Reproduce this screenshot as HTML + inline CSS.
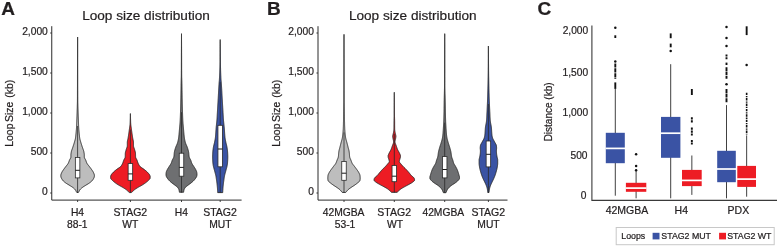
<!DOCTYPE html>
<html lang="en"><head><meta charset="utf-8"><title>Loop size distribution</title>
<style>
html,body{margin:0;padding:0;background:#fff}
body{width:777px;height:246px;overflow:hidden}
svg{display:block}
svg text{font-family:"Liberation Sans", Arial, Helvetica, sans-serif;fill:#231F20;stroke:#231F20;stroke-width:0.22px}
</style></head><body>
<svg width="777" height="246" viewBox="0 0 777 246">
<rect width="777" height="246" fill="#fff"/>
<text x="1.20" y="14.80" font-size="19.00" text-anchor="start" font-weight="bold" >A</text>
<text x="146.00" y="20.40" font-size="13.60" text-anchor="middle" font-weight="normal" >Loop size distribution</text>
<path d="M51.75 26.2 V200.10 H241.60" fill="none" stroke="#2b2b2b" stroke-width="1"/>
<line x1="50.15" y1="193.00" x2="51.75" y2="193.00" stroke="#2b2b2b" stroke-width="0.9"/>
<text x="47.80" y="194.60" font-size="10.25" text-anchor="end" font-weight="normal" >0</text>
<line x1="50.15" y1="153.00" x2="51.75" y2="153.00" stroke="#2b2b2b" stroke-width="0.9"/>
<text x="47.80" y="154.60" font-size="10.25" text-anchor="end" font-weight="normal" >500</text>
<line x1="50.15" y1="113.00" x2="51.75" y2="113.00" stroke="#2b2b2b" stroke-width="0.9"/>
<text x="47.80" y="114.60" font-size="10.25" text-anchor="end" font-weight="normal" >1,000</text>
<line x1="50.15" y1="73.00" x2="51.75" y2="73.00" stroke="#2b2b2b" stroke-width="0.9"/>
<text x="47.80" y="74.60" font-size="10.25" text-anchor="end" font-weight="normal" >1,500</text>
<line x1="50.15" y1="33.00" x2="51.75" y2="33.00" stroke="#2b2b2b" stroke-width="0.9"/>
<text x="47.80" y="34.60" font-size="10.25" text-anchor="end" font-weight="normal" >2,000</text>
<text transform="translate(13.30 146.70) rotate(-90)" font-size="10.4" text-anchor="start">Loop</text>
<text transform="translate(13.30 122.00) rotate(-90)" font-size="10.4" text-anchor="start">Size</text>
<text transform="translate(13.30 97.70) rotate(-90)" font-size="10.4" text-anchor="start">(kb)</text>
<path d="M77.60 37.00 L77.60 37.50 L77.60 38.00 L77.59 38.50 L77.59 39.00 L77.59 39.50 L77.59 40.00 L77.59 40.50 L77.59 41.00 L77.58 41.50 L77.58 42.00 L77.58 42.50 L77.58 43.00 L77.58 43.50 L77.58 44.00 L77.57 44.50 L77.57 45.00 L77.57 45.50 L77.57 46.00 L77.57 46.50 L77.57 47.00 L77.56 47.50 L77.56 48.00 L77.56 48.50 L77.56 49.00 L77.56 49.50 L77.56 50.00 L77.55 50.50 L77.55 51.00 L77.55 51.50 L77.55 52.00 L77.55 52.50 L77.55 53.00 L77.54 53.50 L77.54 54.00 L77.54 54.50 L77.54 55.00 L77.54 55.50 L77.54 56.00 L77.54 56.50 L77.53 57.00 L77.53 57.50 L77.53 58.00 L77.53 58.50 L77.53 59.00 L77.53 59.50 L77.52 60.00 L77.52 60.50 L77.52 61.00 L77.52 61.50 L77.52 62.00 L77.52 62.50 L77.52 63.00 L77.51 63.50 L77.51 64.00 L77.51 64.50 L77.51 65.00 L77.51 65.50 L77.51 66.00 L77.51 66.50 L77.50 67.00 L77.50 67.50 L77.50 68.00 L77.50 68.50 L77.50 69.00 L77.50 69.50 L77.50 70.00 L77.49 70.50 L77.49 71.00 L77.49 71.50 L77.49 72.00 L77.49 72.50 L77.49 73.00 L77.49 73.50 L77.49 74.00 L77.49 74.50 L77.49 75.00 L77.48 75.50 L77.48 76.00 L77.48 76.50 L77.48 77.00 L77.48 77.50 L77.48 78.00 L77.48 78.50 L77.48 79.00 L77.48 79.50 L77.48 80.00 L77.48 80.50 L77.48 81.00 L77.47 81.50 L77.47 82.00 L77.47 82.50 L77.47 83.00 L77.47 83.50 L77.47 84.00 L77.47 84.50 L77.47 85.00 L77.47 85.50 L77.47 86.00 L77.47 86.50 L77.46 87.00 L77.46 87.50 L77.46 88.00 L77.46 88.50 L77.46 89.00 L77.46 89.50 L77.46 90.00 L77.46 90.50 L77.45 91.00 L77.45 91.50 L77.45 92.00 L77.45 92.50 L77.45 93.00 L77.45 93.50 L77.45 94.00 L77.44 94.50 L77.44 95.00 L77.44 95.50 L77.44 96.00 L77.44 96.50 L77.43 97.00 L77.43 97.50 L77.43 98.00 L77.43 98.50 L77.43 99.00 L77.42 99.50 L77.42 100.00 L77.42 100.50 L77.41 101.00 L77.41 101.50 L77.40 102.00 L77.39 102.50 L77.38 103.00 L77.37 103.50 L77.36 104.00 L77.34 104.50 L77.33 105.00 L77.31 105.50 L77.30 106.00 L77.28 106.50 L77.27 107.00 L77.25 107.50 L77.23 108.00 L77.22 108.50 L77.20 109.00 L77.18 109.50 L77.17 110.00 L77.15 110.50 L77.13 111.00 L77.12 111.50 L77.10 112.00 L77.08 112.50 L77.07 113.00 L77.05 113.50 L77.03 114.00 L77.01 114.50 L77.00 115.00 L76.98 115.50 L76.96 116.00 L76.94 116.50 L76.92 117.00 L76.90 117.50 L76.88 118.00 L76.86 118.50 L76.84 119.00 L76.82 119.50 L76.80 120.00 L76.78 120.50 L76.76 121.00 L76.75 121.50 L76.73 122.00 L76.71 122.50 L76.70 123.00 L76.68 123.50 L76.66 124.00 L76.64 124.50 L76.62 125.00 L76.60 125.50 L76.58 126.00 L76.56 126.50 L76.54 127.00 L76.51 127.50 L76.48 128.00 L76.45 128.50 L76.42 129.00 L76.38 129.50 L76.34 130.00 L76.29 130.50 L76.25 131.00 L76.20 131.50 L76.15 132.00 L76.10 132.50 L76.05 133.00 L76.00 133.50 L75.95 134.00 L75.89 134.50 L75.84 135.00 L75.79 135.50 L75.74 136.00 L75.69 136.50 L75.63 137.00 L75.57 137.50 L75.50 138.00 L75.41 138.50 L75.31 139.00 L75.19 139.50 L75.06 140.00 L74.92 140.50 L74.77 141.00 L74.62 141.50 L74.48 142.00 L74.33 142.50 L74.18 143.00 L74.03 143.50 L73.88 144.00 L73.72 144.50 L73.55 145.00 L73.39 145.50 L73.23 146.00 L73.06 146.50 L72.90 147.00 L72.73 147.50 L72.56 148.00 L72.38 148.50 L72.19 149.00 L72.00 149.50 L71.83 150.00 L71.66 150.50 L71.51 151.00 L71.38 151.50 L71.28 152.00 L71.19 152.50 L71.10 153.00 L71.02 153.50 L70.96 154.00 L70.92 154.50 L70.90 155.00 L70.90 155.50 L70.90 156.00 L70.90 156.50 L70.90 157.00 L70.83 157.50 L70.65 158.00 L70.39 158.50 L70.09 159.00 L69.80 159.50 L69.54 160.00 L69.34 160.50 L69.16 161.00 L68.99 161.50 L68.81 162.00 L68.62 162.50 L68.40 163.00 L68.13 163.50 L67.81 164.00 L67.44 164.50 L67.04 165.00 L66.63 165.50 L66.23 166.00 L65.85 166.50 L65.47 167.00 L65.09 167.50 L64.71 168.00 L64.34 168.50 L63.98 169.00 L63.63 169.50 L63.28 170.00 L62.93 170.50 L62.59 171.00 L62.27 171.50 L61.99 172.00 L61.76 172.50 L61.54 173.00 L61.32 173.50 L61.12 174.00 L60.95 174.50 L60.84 175.00 L60.80 175.50 L60.82 176.00 L60.86 176.50 L60.94 177.00 L61.11 177.50 L61.35 178.00 L61.60 178.50 L61.87 179.00 L62.18 179.50 L62.53 180.00 L62.92 180.50 L63.36 181.00 L63.89 181.50 L64.49 182.00 L65.13 182.50 L65.80 183.00 L66.53 183.50 L67.34 184.00 L68.18 184.50 L69.02 185.00 L69.82 185.50 L70.62 186.00 L71.42 186.50 L72.18 187.00 L72.87 187.50 L73.49 188.00 L74.08 188.50 L74.62 189.00 L75.09 189.50 L75.47 190.00 L75.75 190.50 L75.99 191.00 L76.23 191.50 L76.52 192.00 L76.86 192.50 L78.34 192.50 L78.68 192.00 L78.97 191.50 L79.21 191.00 L79.45 190.50 L79.73 190.00 L80.11 189.50 L80.58 189.00 L81.12 188.50 L81.71 188.00 L82.33 187.50 L83.02 187.00 L83.78 186.50 L84.58 186.00 L85.38 185.50 L86.18 185.00 L87.02 184.50 L87.86 184.00 L88.67 183.50 L89.40 183.00 L90.07 182.50 L90.71 182.00 L91.31 181.50 L91.84 181.00 L92.28 180.50 L92.67 180.00 L93.02 179.50 L93.33 179.00 L93.60 178.50 L93.85 178.00 L94.09 177.50 L94.26 177.00 L94.34 176.50 L94.38 176.00 L94.40 175.50 L94.36 175.00 L94.25 174.50 L94.08 174.00 L93.88 173.50 L93.66 173.00 L93.44 172.50 L93.21 172.00 L92.93 171.50 L92.61 171.00 L92.27 170.50 L91.92 170.00 L91.57 169.50 L91.22 169.00 L90.86 168.50 L90.49 168.00 L90.11 167.50 L89.73 167.00 L89.35 166.50 L88.97 166.00 L88.57 165.50 L88.16 165.00 L87.76 164.50 L87.39 164.00 L87.07 163.50 L86.80 163.00 L86.58 162.50 L86.39 162.00 L86.21 161.50 L86.04 161.00 L85.86 160.50 L85.66 160.00 L85.40 159.50 L85.11 159.00 L84.81 158.50 L84.55 158.00 L84.37 157.50 L84.30 157.00 L84.30 156.50 L84.30 156.00 L84.30 155.50 L84.30 155.00 L84.28 154.50 L84.24 154.00 L84.18 153.50 L84.10 153.00 L84.01 152.50 L83.92 152.00 L83.82 151.50 L83.69 151.00 L83.54 150.50 L83.37 150.00 L83.20 149.50 L83.01 149.00 L82.82 148.50 L82.64 148.00 L82.47 147.50 L82.30 147.00 L82.14 146.50 L81.97 146.00 L81.81 145.50 L81.65 145.00 L81.48 144.50 L81.32 144.00 L81.17 143.50 L81.02 143.00 L80.87 142.50 L80.72 142.00 L80.58 141.50 L80.43 141.00 L80.28 140.50 L80.14 140.00 L80.01 139.50 L79.89 139.00 L79.79 138.50 L79.70 138.00 L79.63 137.50 L79.57 137.00 L79.51 136.50 L79.46 136.00 L79.41 135.50 L79.36 135.00 L79.31 134.50 L79.25 134.00 L79.20 133.50 L79.15 133.00 L79.10 132.50 L79.05 132.00 L79.00 131.50 L78.95 131.00 L78.91 130.50 L78.86 130.00 L78.82 129.50 L78.78 129.00 L78.75 128.50 L78.72 128.00 L78.69 127.50 L78.66 127.00 L78.64 126.50 L78.62 126.00 L78.60 125.50 L78.58 125.00 L78.56 124.50 L78.54 124.00 L78.52 123.50 L78.50 123.00 L78.49 122.50 L78.47 122.00 L78.45 121.50 L78.44 121.00 L78.42 120.50 L78.40 120.00 L78.38 119.50 L78.36 119.00 L78.34 118.50 L78.32 118.00 L78.30 117.50 L78.28 117.00 L78.26 116.50 L78.24 116.00 L78.22 115.50 L78.20 115.00 L78.19 114.50 L78.17 114.00 L78.15 113.50 L78.13 113.00 L78.12 112.50 L78.10 112.00 L78.08 111.50 L78.07 111.00 L78.05 110.50 L78.03 110.00 L78.02 109.50 L78.00 109.00 L77.98 108.50 L77.97 108.00 L77.95 107.50 L77.93 107.00 L77.92 106.50 L77.90 106.00 L77.89 105.50 L77.87 105.00 L77.86 104.50 L77.84 104.00 L77.83 103.50 L77.82 103.00 L77.81 102.50 L77.80 102.00 L77.79 101.50 L77.79 101.00 L77.78 100.50 L77.78 100.00 L77.78 99.50 L77.77 99.00 L77.77 98.50 L77.77 98.00 L77.77 97.50 L77.77 97.00 L77.76 96.50 L77.76 96.00 L77.76 95.50 L77.76 95.00 L77.76 94.50 L77.75 94.00 L77.75 93.50 L77.75 93.00 L77.75 92.50 L77.75 92.00 L77.75 91.50 L77.75 91.00 L77.74 90.50 L77.74 90.00 L77.74 89.50 L77.74 89.00 L77.74 88.50 L77.74 88.00 L77.74 87.50 L77.74 87.00 L77.73 86.50 L77.73 86.00 L77.73 85.50 L77.73 85.00 L77.73 84.50 L77.73 84.00 L77.73 83.50 L77.73 83.00 L77.73 82.50 L77.73 82.00 L77.73 81.50 L77.72 81.00 L77.72 80.50 L77.72 80.00 L77.72 79.50 L77.72 79.00 L77.72 78.50 L77.72 78.00 L77.72 77.50 L77.72 77.00 L77.72 76.50 L77.72 76.00 L77.72 75.50 L77.71 75.00 L77.71 74.50 L77.71 74.00 L77.71 73.50 L77.71 73.00 L77.71 72.50 L77.71 72.00 L77.71 71.50 L77.71 71.00 L77.71 70.50 L77.70 70.00 L77.70 69.50 L77.70 69.00 L77.70 68.50 L77.70 68.00 L77.70 67.50 L77.70 67.00 L77.69 66.50 L77.69 66.00 L77.69 65.50 L77.69 65.00 L77.69 64.50 L77.69 64.00 L77.69 63.50 L77.68 63.00 L77.68 62.50 L77.68 62.00 L77.68 61.50 L77.68 61.00 L77.68 60.50 L77.68 60.00 L77.67 59.50 L77.67 59.00 L77.67 58.50 L77.67 58.00 L77.67 57.50 L77.67 57.00 L77.66 56.50 L77.66 56.00 L77.66 55.50 L77.66 55.00 L77.66 54.50 L77.66 54.00 L77.66 53.50 L77.65 53.00 L77.65 52.50 L77.65 52.00 L77.65 51.50 L77.65 51.00 L77.65 50.50 L77.64 50.00 L77.64 49.50 L77.64 49.00 L77.64 48.50 L77.64 48.00 L77.64 47.50 L77.63 47.00 L77.63 46.50 L77.63 46.00 L77.63 45.50 L77.63 45.00 L77.63 44.50 L77.62 44.00 L77.62 43.50 L77.62 43.00 L77.62 42.50 L77.62 42.00 L77.62 41.50 L77.61 41.00 L77.61 40.50 L77.61 40.00 L77.61 39.50 L77.61 39.00 L77.61 38.50 L77.60 38.00 L77.60 37.50 L77.60 37.00 Z" fill="#BDBDBD" stroke="#262626" stroke-width="0.90" stroke-linejoin="round"/>
<line x1="77.60" y1="126.00" x2="77.60" y2="192.70" stroke="#2a2a2a" stroke-width="0.80"/><rect x="75.35" y="157.40" width="4.50" height="20.50" fill="#fff" stroke="#2a2a2a" stroke-width="0.80"/><line x1="75.35" y1="170.30" x2="79.85" y2="170.30" stroke="#1a1a1a" stroke-width="1.0"/>
<line x1="77.60" y1="200.10" x2="77.60" y2="202.00" stroke="#2b2b2b" stroke-width="0.9"/>
<path d="M130.40 113.60 L130.38 114.10 L130.37 114.60 L130.35 115.10 L130.33 115.60 L130.32 116.10 L130.31 116.60 L130.29 117.10 L130.28 117.60 L130.27 118.10 L130.26 118.60 L130.24 119.10 L130.23 119.60 L130.22 120.10 L130.20 120.60 L130.18 121.10 L130.17 121.60 L130.15 122.10 L130.13 122.60 L130.10 123.10 L130.07 123.60 L130.04 124.10 L130.00 124.60 L129.95 125.10 L129.89 125.60 L129.82 126.10 L129.75 126.60 L129.68 127.10 L129.61 127.60 L129.55 128.10 L129.48 128.60 L129.41 129.10 L129.34 129.60 L129.27 130.10 L129.20 130.60 L129.13 131.10 L129.06 131.60 L128.99 132.10 L128.92 132.60 L128.84 133.10 L128.77 133.60 L128.69 134.10 L128.62 134.60 L128.54 135.10 L128.47 135.60 L128.40 136.10 L128.32 136.60 L128.24 137.10 L128.16 137.60 L128.08 138.10 L127.99 138.60 L127.88 139.10 L127.77 139.60 L127.65 140.10 L127.54 140.60 L127.45 141.10 L127.37 141.60 L127.32 142.10 L127.30 142.60 L127.30 143.10 L127.30 143.60 L127.30 144.10 L127.30 144.60 L127.30 145.10 L127.30 145.60 L127.28 146.10 L127.19 146.60 L127.06 147.10 L126.89 147.60 L126.71 148.10 L126.52 148.60 L126.35 149.10 L126.20 149.60 L126.06 150.10 L125.92 150.60 L125.77 151.10 L125.62 151.60 L125.50 152.10 L125.39 152.60 L125.32 153.10 L125.29 153.60 L125.27 154.10 L125.26 154.60 L125.25 155.10 L125.25 155.60 L125.23 156.10 L125.22 156.60 L125.19 157.10 L125.08 157.60 L124.87 158.10 L124.60 158.60 L124.31 159.10 L124.03 159.60 L123.80 160.10 L123.61 160.60 L123.44 161.10 L123.28 161.60 L123.12 162.10 L122.94 162.60 L122.74 163.10 L122.52 163.60 L122.28 164.10 L122.03 164.60 L121.74 165.10 L121.42 165.60 L121.06 166.10 L120.62 166.60 L120.04 167.10 L119.34 167.60 L118.59 168.10 L117.82 168.60 L117.10 169.10 L116.45 169.60 L115.82 170.10 L115.19 170.60 L114.58 171.10 L114.01 171.60 L113.48 172.10 L113.02 172.60 L112.56 173.10 L112.12 173.60 L111.71 174.10 L111.35 174.60 L111.06 175.10 L110.87 175.60 L110.71 176.10 L110.61 176.60 L110.60 177.10 L110.63 177.60 L110.68 178.10 L110.78 178.60 L111.09 179.10 L111.55 179.60 L112.08 180.10 L112.60 180.60 L113.12 181.10 L113.70 181.60 L114.32 182.10 L114.97 182.60 L115.64 183.10 L116.34 183.60 L117.09 184.10 L117.87 184.60 L118.67 185.10 L119.51 185.60 L120.41 186.10 L121.34 186.60 L122.25 187.10 L123.10 187.60 L123.90 188.10 L124.68 188.60 L125.43 189.10 L126.12 189.60 L126.74 190.10 L127.26 190.60 L127.77 191.10 L128.33 191.60 L128.94 192.10 L129.57 192.60 L131.23 192.60 L131.86 192.10 L132.47 191.60 L133.03 191.10 L133.54 190.60 L134.06 190.10 L134.68 189.60 L135.37 189.10 L136.12 188.60 L136.90 188.10 L137.70 187.60 L138.55 187.10 L139.46 186.60 L140.39 186.10 L141.29 185.60 L142.13 185.10 L142.93 184.60 L143.71 184.10 L144.46 183.60 L145.16 183.10 L145.83 182.60 L146.48 182.10 L147.10 181.60 L147.68 181.10 L148.20 180.60 L148.72 180.10 L149.25 179.60 L149.71 179.10 L150.02 178.60 L150.12 178.10 L150.17 177.60 L150.20 177.10 L150.19 176.60 L150.09 176.10 L149.93 175.60 L149.74 175.10 L149.45 174.60 L149.09 174.10 L148.68 173.60 L148.24 173.10 L147.78 172.60 L147.32 172.10 L146.79 171.60 L146.22 171.10 L145.61 170.60 L144.98 170.10 L144.35 169.60 L143.70 169.10 L142.98 168.60 L142.21 168.10 L141.46 167.60 L140.76 167.10 L140.18 166.60 L139.74 166.10 L139.38 165.60 L139.06 165.10 L138.77 164.60 L138.52 164.10 L138.28 163.60 L138.06 163.10 L137.86 162.60 L137.68 162.10 L137.52 161.60 L137.36 161.10 L137.19 160.60 L137.00 160.10 L136.77 159.60 L136.49 159.10 L136.20 158.60 L135.93 158.10 L135.72 157.60 L135.61 157.10 L135.58 156.60 L135.57 156.10 L135.55 155.60 L135.55 155.10 L135.54 154.60 L135.53 154.10 L135.51 153.60 L135.48 153.10 L135.41 152.60 L135.30 152.10 L135.18 151.60 L135.03 151.10 L134.88 150.60 L134.74 150.10 L134.60 149.60 L134.45 149.10 L134.28 148.60 L134.09 148.10 L133.91 147.60 L133.74 147.10 L133.61 146.60 L133.52 146.10 L133.50 145.60 L133.50 145.10 L133.50 144.60 L133.50 144.10 L133.50 143.60 L133.50 143.10 L133.50 142.60 L133.48 142.10 L133.43 141.60 L133.35 141.10 L133.26 140.60 L133.15 140.10 L133.03 139.60 L132.92 139.10 L132.81 138.60 L132.72 138.10 L132.64 137.60 L132.56 137.10 L132.48 136.60 L132.40 136.10 L132.33 135.60 L132.26 135.10 L132.18 134.60 L132.11 134.10 L132.03 133.60 L131.96 133.10 L131.88 132.60 L131.81 132.10 L131.74 131.60 L131.67 131.10 L131.60 130.60 L131.53 130.10 L131.46 129.60 L131.39 129.10 L131.32 128.60 L131.25 128.10 L131.19 127.60 L131.12 127.10 L131.05 126.60 L130.98 126.10 L130.91 125.60 L130.85 125.10 L130.80 124.60 L130.76 124.10 L130.73 123.60 L130.70 123.10 L130.67 122.60 L130.65 122.10 L130.63 121.60 L130.62 121.10 L130.60 120.60 L130.58 120.10 L130.57 119.60 L130.56 119.10 L130.54 118.60 L130.53 118.10 L130.52 117.60 L130.51 117.10 L130.49 116.60 L130.48 116.10 L130.47 115.60 L130.45 115.10 L130.43 114.60 L130.42 114.10 L130.40 113.60 Z" fill="#ED1C24" stroke="#262626" stroke-width="0.90" stroke-linejoin="round"/>
<line x1="130.40" y1="129.60" x2="130.40" y2="192.70" stroke="#2a2a2a" stroke-width="0.80"/><rect x="128.15" y="163.60" width="4.50" height="16.70" fill="#fff" stroke="#2a2a2a" stroke-width="0.80"/><line x1="128.15" y1="173.90" x2="132.65" y2="173.90" stroke="#1a1a1a" stroke-width="1.0"/>
<line x1="130.40" y1="200.10" x2="130.40" y2="202.00" stroke="#2b2b2b" stroke-width="0.9"/>
<path d="M181.50 33.70 L181.50 34.20 L181.49 34.70 L181.49 35.20 L181.49 35.70 L181.49 36.20 L181.48 36.70 L181.48 37.20 L181.48 37.70 L181.48 38.20 L181.47 38.70 L181.47 39.20 L181.47 39.70 L181.47 40.20 L181.46 40.70 L181.46 41.20 L181.46 41.70 L181.46 42.20 L181.45 42.70 L181.45 43.20 L181.45 43.70 L181.45 44.20 L181.44 44.70 L181.44 45.20 L181.44 45.70 L181.44 46.20 L181.43 46.70 L181.43 47.20 L181.43 47.70 L181.43 48.20 L181.43 48.70 L181.42 49.20 L181.42 49.70 L181.42 50.20 L181.42 50.70 L181.41 51.20 L181.41 51.70 L181.41 52.20 L181.41 52.70 L181.40 53.20 L181.40 53.70 L181.40 54.20 L181.40 54.70 L181.40 55.20 L181.39 55.70 L181.39 56.20 L181.39 56.70 L181.39 57.20 L181.39 57.70 L181.39 58.20 L181.38 58.70 L181.38 59.20 L181.38 59.70 L181.38 60.20 L181.38 60.70 L181.38 61.20 L181.38 61.70 L181.38 62.20 L181.37 62.70 L181.37 63.20 L181.37 63.70 L181.37 64.20 L181.37 64.70 L181.37 65.20 L181.37 65.70 L181.36 66.20 L181.36 66.70 L181.36 67.20 L181.36 67.70 L181.36 68.20 L181.36 68.70 L181.35 69.20 L181.35 69.70 L181.35 70.20 L181.35 70.70 L181.34 71.20 L181.34 71.70 L181.34 72.20 L181.34 72.70 L181.33 73.20 L181.33 73.70 L181.33 74.20 L181.32 74.70 L181.32 75.20 L181.31 75.70 L181.30 76.20 L181.29 76.70 L181.28 77.20 L181.27 77.70 L181.25 78.20 L181.23 78.70 L181.22 79.20 L181.20 79.70 L181.18 80.20 L181.17 80.70 L181.15 81.20 L181.13 81.70 L181.12 82.20 L181.11 82.70 L181.10 83.20 L181.08 83.70 L181.07 84.20 L181.06 84.70 L181.05 85.20 L181.05 85.70 L181.04 86.20 L181.03 86.70 L181.02 87.20 L181.01 87.70 L181.00 88.20 L180.99 88.70 L180.99 89.20 L180.98 89.70 L180.97 90.20 L180.96 90.70 L180.95 91.20 L180.95 91.70 L180.94 92.20 L180.93 92.70 L180.92 93.20 L180.92 93.70 L180.91 94.20 L180.90 94.70 L180.89 95.20 L180.88 95.70 L180.87 96.20 L180.87 96.70 L180.86 97.20 L180.85 97.70 L180.84 98.20 L180.83 98.70 L180.82 99.20 L180.81 99.70 L180.80 100.20 L180.78 100.70 L180.77 101.20 L180.76 101.70 L180.75 102.20 L180.74 102.70 L180.73 103.20 L180.72 103.70 L180.71 104.20 L180.69 104.70 L180.68 105.20 L180.67 105.70 L180.66 106.20 L180.65 106.70 L180.63 107.20 L180.62 107.70 L180.61 108.20 L180.60 108.70 L180.58 109.20 L180.57 109.70 L180.56 110.20 L180.54 110.70 L180.53 111.20 L180.51 111.70 L180.50 112.20 L180.48 112.70 L180.46 113.20 L180.45 113.70 L180.43 114.20 L180.41 114.70 L180.40 115.20 L180.38 115.70 L180.36 116.20 L180.34 116.70 L180.32 117.20 L180.30 117.70 L180.28 118.20 L180.26 118.70 L180.24 119.20 L180.21 119.70 L180.19 120.20 L180.16 120.70 L180.13 121.20 L180.10 121.70 L180.07 122.20 L180.03 122.70 L179.99 123.20 L179.95 123.70 L179.91 124.20 L179.86 124.70 L179.82 125.20 L179.77 125.70 L179.73 126.20 L179.69 126.70 L179.64 127.20 L179.60 127.70 L179.56 128.20 L179.52 128.70 L179.47 129.20 L179.43 129.70 L179.39 130.20 L179.34 130.70 L179.30 131.20 L179.26 131.70 L179.21 132.20 L179.16 132.70 L179.12 133.20 L179.07 133.70 L179.02 134.20 L178.97 134.70 L178.92 135.20 L178.87 135.70 L178.82 136.20 L178.76 136.70 L178.71 137.20 L178.64 137.70 L178.57 138.20 L178.49 138.70 L178.40 139.20 L178.30 139.70 L178.20 140.20 L178.09 140.70 L177.97 141.20 L177.84 141.70 L177.71 142.20 L177.57 142.70 L177.41 143.20 L177.22 143.70 L177.01 144.20 L176.79 144.70 L176.57 145.20 L176.34 145.70 L176.12 146.20 L175.92 146.70 L175.73 147.20 L175.57 147.70 L175.40 148.20 L175.24 148.70 L175.08 149.20 L174.93 149.70 L174.78 150.20 L174.65 150.70 L174.54 151.20 L174.44 151.70 L174.35 152.20 L174.29 152.70 L174.23 153.20 L174.18 153.70 L174.14 154.20 L174.10 154.70 L174.05 155.20 L174.00 155.70 L173.94 156.20 L173.86 156.70 L173.75 157.20 L173.57 157.70 L173.33 158.20 L173.04 158.70 L172.75 159.20 L172.48 159.70 L172.26 160.20 L172.07 160.70 L171.91 161.20 L171.75 161.70 L171.59 162.20 L171.41 162.70 L171.20 163.20 L170.95 163.70 L170.66 164.20 L170.35 164.70 L170.02 165.20 L169.68 165.70 L169.36 166.20 L169.05 166.70 L168.72 167.20 L168.40 167.70 L168.08 168.20 L167.77 168.70 L167.50 169.20 L167.25 169.70 L167.00 170.20 L166.76 170.70 L166.55 171.20 L166.37 171.70 L166.24 172.20 L166.16 172.70 L166.09 173.20 L166.04 173.70 L166.01 174.20 L166.01 174.70 L166.05 175.20 L166.14 175.70 L166.25 176.20 L166.44 176.70 L166.70 177.20 L167.01 177.70 L167.34 178.20 L167.67 178.70 L168.05 179.20 L168.47 179.70 L168.92 180.20 L169.40 180.70 L169.90 181.20 L170.45 181.70 L171.03 182.20 L171.63 182.70 L172.25 183.20 L172.92 183.70 L173.61 184.20 L174.31 184.70 L174.97 185.20 L175.62 185.70 L176.28 186.20 L176.91 186.70 L177.46 187.20 L177.87 187.70 L178.21 188.20 L178.51 188.70 L178.76 189.20 L178.95 189.70 L179.07 190.20 L179.18 190.70 L179.27 191.20 L179.34 191.70 L179.39 192.20 L183.61 192.20 L183.66 191.70 L183.73 191.20 L183.82 190.70 L183.93 190.20 L184.05 189.70 L184.24 189.20 L184.49 188.70 L184.79 188.20 L185.13 187.70 L185.54 187.20 L186.09 186.70 L186.72 186.20 L187.38 185.70 L188.03 185.20 L188.69 184.70 L189.39 184.20 L190.08 183.70 L190.75 183.20 L191.37 182.70 L191.97 182.20 L192.55 181.70 L193.10 181.20 L193.60 180.70 L194.08 180.20 L194.53 179.70 L194.95 179.20 L195.33 178.70 L195.66 178.20 L195.99 177.70 L196.30 177.20 L196.56 176.70 L196.75 176.20 L196.86 175.70 L196.95 175.20 L196.99 174.70 L196.99 174.20 L196.96 173.70 L196.91 173.20 L196.84 172.70 L196.76 172.20 L196.63 171.70 L196.45 171.20 L196.24 170.70 L196.00 170.20 L195.75 169.70 L195.50 169.20 L195.23 168.70 L194.92 168.20 L194.60 167.70 L194.28 167.20 L193.95 166.70 L193.64 166.20 L193.32 165.70 L192.98 165.20 L192.65 164.70 L192.34 164.20 L192.05 163.70 L191.80 163.20 L191.59 162.70 L191.41 162.20 L191.25 161.70 L191.09 161.20 L190.93 160.70 L190.74 160.20 L190.52 159.70 L190.25 159.20 L189.96 158.70 L189.67 158.20 L189.43 157.70 L189.25 157.20 L189.14 156.70 L189.06 156.20 L189.00 155.70 L188.95 155.20 L188.90 154.70 L188.86 154.20 L188.82 153.70 L188.77 153.20 L188.71 152.70 L188.65 152.20 L188.56 151.70 L188.46 151.20 L188.35 150.70 L188.22 150.20 L188.07 149.70 L187.92 149.20 L187.76 148.70 L187.60 148.20 L187.43 147.70 L187.27 147.20 L187.08 146.70 L186.88 146.20 L186.66 145.70 L186.43 145.20 L186.21 144.70 L185.99 144.20 L185.78 143.70 L185.59 143.20 L185.43 142.70 L185.29 142.20 L185.16 141.70 L185.03 141.20 L184.91 140.70 L184.80 140.20 L184.70 139.70 L184.60 139.20 L184.51 138.70 L184.43 138.20 L184.36 137.70 L184.29 137.20 L184.24 136.70 L184.18 136.20 L184.13 135.70 L184.08 135.20 L184.03 134.70 L183.98 134.20 L183.93 133.70 L183.88 133.20 L183.84 132.70 L183.79 132.20 L183.74 131.70 L183.70 131.20 L183.66 130.70 L183.61 130.20 L183.57 129.70 L183.53 129.20 L183.48 128.70 L183.44 128.20 L183.40 127.70 L183.36 127.20 L183.31 126.70 L183.27 126.20 L183.23 125.70 L183.18 125.20 L183.14 124.70 L183.09 124.20 L183.05 123.70 L183.01 123.20 L182.97 122.70 L182.93 122.20 L182.90 121.70 L182.87 121.20 L182.84 120.70 L182.81 120.20 L182.79 119.70 L182.76 119.20 L182.74 118.70 L182.72 118.20 L182.70 117.70 L182.68 117.20 L182.66 116.70 L182.64 116.20 L182.62 115.70 L182.60 115.20 L182.59 114.70 L182.57 114.20 L182.55 113.70 L182.54 113.20 L182.52 112.70 L182.50 112.20 L182.49 111.70 L182.47 111.20 L182.46 110.70 L182.44 110.20 L182.43 109.70 L182.42 109.20 L182.40 108.70 L182.39 108.20 L182.38 107.70 L182.37 107.20 L182.35 106.70 L182.34 106.20 L182.33 105.70 L182.32 105.20 L182.31 104.70 L182.29 104.20 L182.28 103.70 L182.27 103.20 L182.26 102.70 L182.25 102.20 L182.24 101.70 L182.23 101.20 L182.22 100.70 L182.20 100.20 L182.19 99.70 L182.18 99.20 L182.17 98.70 L182.16 98.20 L182.15 97.70 L182.14 97.20 L182.13 96.70 L182.13 96.20 L182.12 95.70 L182.11 95.20 L182.10 94.70 L182.09 94.20 L182.08 93.70 L182.08 93.20 L182.07 92.70 L182.06 92.20 L182.05 91.70 L182.05 91.20 L182.04 90.70 L182.03 90.20 L182.02 89.70 L182.01 89.20 L182.01 88.70 L182.00 88.20 L181.99 87.70 L181.98 87.20 L181.97 86.70 L181.96 86.20 L181.95 85.70 L181.95 85.20 L181.94 84.70 L181.93 84.20 L181.92 83.70 L181.90 83.20 L181.89 82.70 L181.88 82.20 L181.87 81.70 L181.85 81.20 L181.83 80.70 L181.82 80.20 L181.80 79.70 L181.78 79.20 L181.77 78.70 L181.75 78.20 L181.73 77.70 L181.72 77.20 L181.71 76.70 L181.70 76.20 L181.69 75.70 L181.68 75.20 L181.68 74.70 L181.67 74.20 L181.67 73.70 L181.67 73.20 L181.66 72.70 L181.66 72.20 L181.66 71.70 L181.66 71.20 L181.65 70.70 L181.65 70.20 L181.65 69.70 L181.65 69.20 L181.64 68.70 L181.64 68.20 L181.64 67.70 L181.64 67.20 L181.64 66.70 L181.64 66.20 L181.63 65.70 L181.63 65.20 L181.63 64.70 L181.63 64.20 L181.63 63.70 L181.63 63.20 L181.63 62.70 L181.62 62.20 L181.62 61.70 L181.62 61.20 L181.62 60.70 L181.62 60.20 L181.62 59.70 L181.62 59.20 L181.62 58.70 L181.61 58.20 L181.61 57.70 L181.61 57.20 L181.61 56.70 L181.61 56.20 L181.61 55.70 L181.60 55.20 L181.60 54.70 L181.60 54.20 L181.60 53.70 L181.60 53.20 L181.59 52.70 L181.59 52.20 L181.59 51.70 L181.59 51.20 L181.58 50.70 L181.58 50.20 L181.58 49.70 L181.58 49.20 L181.57 48.70 L181.57 48.20 L181.57 47.70 L181.57 47.20 L181.57 46.70 L181.56 46.20 L181.56 45.70 L181.56 45.20 L181.56 44.70 L181.55 44.20 L181.55 43.70 L181.55 43.20 L181.55 42.70 L181.54 42.20 L181.54 41.70 L181.54 41.20 L181.54 40.70 L181.53 40.20 L181.53 39.70 L181.53 39.20 L181.53 38.70 L181.52 38.20 L181.52 37.70 L181.52 37.20 L181.52 36.70 L181.51 36.20 L181.51 35.70 L181.51 35.20 L181.51 34.70 L181.50 34.20 L181.50 33.70 Z" fill="#6E6F71" stroke="#262626" stroke-width="0.90" stroke-linejoin="round"/>
<line x1="181.50" y1="112.20" x2="181.50" y2="192.60" stroke="#2a2a2a" stroke-width="0.80"/><rect x="179.25" y="153.20" width="4.50" height="23.00" fill="#fff" stroke="#2a2a2a" stroke-width="0.80"/><line x1="179.25" y1="167.40" x2="183.75" y2="167.40" stroke="#1a1a1a" stroke-width="1.0"/>
<line x1="181.50" y1="200.10" x2="181.50" y2="202.00" stroke="#2b2b2b" stroke-width="0.9"/>
<path d="M220.20 39.60 L220.19 40.10 L220.19 40.60 L220.18 41.10 L220.18 41.60 L220.17 42.10 L220.17 42.60 L220.16 43.10 L220.16 43.60 L220.15 44.10 L220.15 44.60 L220.14 45.10 L220.14 45.60 L220.13 46.10 L220.13 46.60 L220.12 47.10 L220.12 47.60 L220.12 48.10 L220.11 48.60 L220.11 49.10 L220.10 49.60 L220.10 50.10 L220.09 50.60 L220.09 51.10 L220.09 51.60 L220.08 52.10 L220.08 52.60 L220.08 53.10 L220.07 53.60 L220.07 54.10 L220.07 54.60 L220.06 55.10 L220.06 55.60 L220.06 56.10 L220.05 56.60 L220.05 57.10 L220.04 57.60 L220.04 58.10 L220.03 58.60 L220.03 59.10 L220.02 59.60 L220.02 60.10 L220.01 60.60 L220.01 61.10 L220.00 61.60 L219.99 62.10 L219.98 62.60 L219.97 63.10 L219.96 63.60 L219.95 64.10 L219.94 64.60 L219.93 65.10 L219.92 65.60 L219.91 66.10 L219.89 66.60 L219.88 67.10 L219.87 67.60 L219.85 68.10 L219.84 68.60 L219.83 69.10 L219.81 69.60 L219.80 70.10 L219.78 70.60 L219.77 71.10 L219.75 71.60 L219.73 72.10 L219.72 72.60 L219.70 73.10 L219.68 73.60 L219.66 74.10 L219.64 74.60 L219.62 75.10 L219.60 75.60 L219.58 76.10 L219.55 76.60 L219.53 77.10 L219.51 77.60 L219.48 78.10 L219.45 78.60 L219.42 79.10 L219.39 79.60 L219.36 80.10 L219.32 80.60 L219.27 81.10 L219.22 81.60 L219.18 82.10 L219.13 82.60 L219.09 83.10 L219.06 83.60 L219.02 84.10 L218.99 84.60 L218.96 85.10 L218.92 85.60 L218.89 86.10 L218.86 86.60 L218.83 87.10 L218.80 87.60 L218.77 88.10 L218.74 88.60 L218.71 89.10 L218.68 89.60 L218.66 90.10 L218.63 90.60 L218.60 91.10 L218.57 91.60 L218.55 92.10 L218.52 92.60 L218.49 93.10 L218.47 93.60 L218.44 94.10 L218.41 94.60 L218.38 95.10 L218.36 95.60 L218.33 96.10 L218.30 96.60 L218.27 97.10 L218.25 97.60 L218.22 98.10 L218.19 98.60 L218.16 99.10 L218.13 99.60 L218.10 100.10 L218.07 100.60 L218.04 101.10 L218.01 101.60 L217.99 102.10 L217.96 102.60 L217.93 103.10 L217.90 103.60 L217.87 104.10 L217.84 104.60 L217.81 105.10 L217.78 105.60 L217.75 106.10 L217.72 106.60 L217.70 107.10 L217.67 107.60 L217.64 108.10 L217.61 108.60 L217.58 109.10 L217.55 109.60 L217.52 110.10 L217.49 110.60 L217.46 111.10 L217.43 111.60 L217.41 112.10 L217.38 112.60 L217.35 113.10 L217.32 113.60 L217.29 114.10 L217.26 114.60 L217.23 115.10 L217.21 115.60 L217.18 116.10 L217.15 116.60 L217.12 117.10 L217.09 117.60 L217.06 118.10 L217.03 118.60 L216.99 119.10 L216.95 119.60 L216.91 120.10 L216.87 120.60 L216.82 121.10 L216.78 121.60 L216.73 122.10 L216.68 122.60 L216.62 123.10 L216.57 123.60 L216.52 124.10 L216.46 124.60 L216.41 125.10 L216.36 125.60 L216.31 126.10 L216.26 126.60 L216.21 127.10 L216.16 127.60 L216.12 128.10 L216.07 128.60 L216.04 129.10 L216.00 129.60 L215.96 130.10 L215.93 130.60 L215.90 131.10 L215.86 131.60 L215.83 132.10 L215.80 132.60 L215.77 133.10 L215.73 133.60 L215.70 134.10 L215.66 134.60 L215.63 135.10 L215.58 135.60 L215.54 136.10 L215.49 136.60 L215.44 137.10 L215.39 137.60 L215.32 138.10 L215.25 138.60 L215.17 139.10 L215.08 139.60 L214.98 140.10 L214.88 140.60 L214.78 141.10 L214.68 141.60 L214.58 142.10 L214.47 142.60 L214.36 143.10 L214.24 143.60 L214.11 144.10 L213.99 144.60 L213.86 145.10 L213.74 145.60 L213.63 146.10 L213.53 146.60 L213.43 147.10 L213.35 147.60 L213.27 148.10 L213.19 148.60 L213.12 149.10 L213.05 149.60 L212.98 150.10 L212.92 150.60 L212.87 151.10 L212.83 151.60 L212.79 152.10 L212.76 152.60 L212.73 153.10 L212.71 153.60 L212.68 154.10 L212.66 154.60 L212.64 155.10 L212.62 155.60 L212.61 156.10 L212.60 156.60 L212.60 157.10 L212.61 157.60 L212.62 158.10 L212.64 158.60 L212.66 159.10 L212.68 159.60 L212.70 160.10 L212.72 160.60 L212.75 161.10 L212.78 161.60 L212.81 162.10 L212.85 162.60 L212.89 163.10 L212.94 163.60 L213.01 164.10 L213.08 164.60 L213.17 165.10 L213.26 165.60 L213.36 166.10 L213.46 166.60 L213.58 167.10 L213.71 167.60 L213.84 168.10 L213.98 168.60 L214.12 169.10 L214.25 169.60 L214.39 170.10 L214.52 170.60 L214.65 171.10 L214.79 171.60 L214.92 172.10 L215.05 172.60 L215.19 173.10 L215.33 173.60 L215.46 174.10 L215.60 174.60 L215.71 175.10 L215.82 175.60 L215.91 176.10 L216.00 176.60 L216.09 177.10 L216.17 177.60 L216.24 178.10 L216.31 178.60 L216.39 179.10 L216.46 179.60 L216.53 180.10 L216.60 180.60 L216.67 181.10 L216.74 181.60 L216.80 182.10 L216.87 182.60 L216.93 183.10 L216.99 183.60 L217.05 184.10 L217.10 184.60 L217.16 185.10 L217.21 185.60 L217.27 186.10 L217.31 186.60 L217.36 187.10 L217.40 187.60 L217.44 188.10 L217.47 188.60 L217.51 189.10 L217.54 189.60 L217.58 190.10 L217.61 190.60 L217.63 191.10 L217.66 191.60 L217.68 192.10 L217.70 192.60 L222.70 192.60 L222.72 192.10 L222.74 191.60 L222.77 191.10 L222.79 190.60 L222.82 190.10 L222.86 189.60 L222.89 189.10 L222.93 188.60 L222.96 188.10 L223.00 187.60 L223.04 187.10 L223.09 186.60 L223.13 186.10 L223.19 185.60 L223.24 185.10 L223.30 184.60 L223.35 184.10 L223.41 183.60 L223.47 183.10 L223.53 182.60 L223.60 182.10 L223.66 181.60 L223.73 181.10 L223.80 180.60 L223.87 180.10 L223.94 179.60 L224.01 179.10 L224.09 178.60 L224.16 178.10 L224.23 177.60 L224.31 177.10 L224.40 176.60 L224.49 176.10 L224.58 175.60 L224.69 175.10 L224.80 174.60 L224.94 174.10 L225.07 173.60 L225.21 173.10 L225.35 172.60 L225.48 172.10 L225.61 171.60 L225.75 171.10 L225.88 170.60 L226.01 170.10 L226.15 169.60 L226.28 169.10 L226.42 168.60 L226.56 168.10 L226.69 167.60 L226.82 167.10 L226.94 166.60 L227.04 166.10 L227.14 165.60 L227.23 165.10 L227.32 164.60 L227.39 164.10 L227.46 163.60 L227.51 163.10 L227.55 162.60 L227.59 162.10 L227.62 161.60 L227.65 161.10 L227.68 160.60 L227.70 160.10 L227.72 159.60 L227.74 159.10 L227.76 158.60 L227.78 158.10 L227.79 157.60 L227.80 157.10 L227.80 156.60 L227.79 156.10 L227.78 155.60 L227.76 155.10 L227.74 154.60 L227.72 154.10 L227.69 153.60 L227.67 153.10 L227.64 152.60 L227.61 152.10 L227.57 151.60 L227.53 151.10 L227.48 150.60 L227.42 150.10 L227.35 149.60 L227.28 149.10 L227.21 148.60 L227.13 148.10 L227.05 147.60 L226.97 147.10 L226.87 146.60 L226.77 146.10 L226.66 145.60 L226.54 145.10 L226.41 144.60 L226.29 144.10 L226.16 143.60 L226.04 143.10 L225.93 142.60 L225.82 142.10 L225.72 141.60 L225.62 141.10 L225.52 140.60 L225.42 140.10 L225.32 139.60 L225.23 139.10 L225.15 138.60 L225.08 138.10 L225.01 137.60 L224.96 137.10 L224.91 136.60 L224.86 136.10 L224.82 135.60 L224.77 135.10 L224.74 134.60 L224.70 134.10 L224.67 133.60 L224.63 133.10 L224.60 132.60 L224.57 132.10 L224.54 131.60 L224.50 131.10 L224.47 130.60 L224.44 130.10 L224.40 129.60 L224.36 129.10 L224.33 128.60 L224.28 128.10 L224.24 127.60 L224.19 127.10 L224.14 126.60 L224.09 126.10 L224.04 125.60 L223.99 125.10 L223.94 124.60 L223.88 124.10 L223.83 123.60 L223.78 123.10 L223.72 122.60 L223.67 122.10 L223.62 121.60 L223.58 121.10 L223.53 120.60 L223.49 120.10 L223.45 119.60 L223.41 119.10 L223.37 118.60 L223.34 118.10 L223.31 117.60 L223.28 117.10 L223.25 116.60 L223.22 116.10 L223.19 115.60 L223.17 115.10 L223.14 114.60 L223.11 114.10 L223.08 113.60 L223.05 113.10 L223.02 112.60 L222.99 112.10 L222.97 111.60 L222.94 111.10 L222.91 110.60 L222.88 110.10 L222.85 109.60 L222.82 109.10 L222.79 108.60 L222.76 108.10 L222.73 107.60 L222.70 107.10 L222.68 106.60 L222.65 106.10 L222.62 105.60 L222.59 105.10 L222.56 104.60 L222.53 104.10 L222.50 103.60 L222.47 103.10 L222.44 102.60 L222.41 102.10 L222.39 101.60 L222.36 101.10 L222.33 100.60 L222.30 100.10 L222.27 99.60 L222.24 99.10 L222.21 98.60 L222.18 98.10 L222.15 97.60 L222.13 97.10 L222.10 96.60 L222.07 96.10 L222.04 95.60 L222.02 95.10 L221.99 94.60 L221.96 94.10 L221.93 93.60 L221.91 93.10 L221.88 92.60 L221.85 92.10 L221.83 91.60 L221.80 91.10 L221.77 90.60 L221.74 90.10 L221.72 89.60 L221.69 89.10 L221.66 88.60 L221.63 88.10 L221.60 87.60 L221.57 87.10 L221.54 86.60 L221.51 86.10 L221.48 85.60 L221.44 85.10 L221.41 84.60 L221.38 84.10 L221.34 83.60 L221.31 83.10 L221.27 82.60 L221.22 82.10 L221.18 81.60 L221.13 81.10 L221.08 80.60 L221.04 80.10 L221.01 79.60 L220.98 79.10 L220.95 78.60 L220.92 78.10 L220.89 77.60 L220.87 77.10 L220.85 76.60 L220.82 76.10 L220.80 75.60 L220.78 75.10 L220.76 74.60 L220.74 74.10 L220.72 73.60 L220.70 73.10 L220.68 72.60 L220.67 72.10 L220.65 71.60 L220.63 71.10 L220.62 70.60 L220.60 70.10 L220.59 69.60 L220.57 69.10 L220.56 68.60 L220.55 68.10 L220.53 67.60 L220.52 67.10 L220.51 66.60 L220.49 66.10 L220.48 65.60 L220.47 65.10 L220.46 64.60 L220.45 64.10 L220.44 63.60 L220.43 63.10 L220.42 62.60 L220.41 62.10 L220.40 61.60 L220.39 61.10 L220.39 60.60 L220.38 60.10 L220.38 59.60 L220.37 59.10 L220.37 58.60 L220.36 58.10 L220.36 57.60 L220.35 57.10 L220.35 56.60 L220.34 56.10 L220.34 55.60 L220.34 55.10 L220.33 54.60 L220.33 54.10 L220.33 53.60 L220.32 53.10 L220.32 52.60 L220.32 52.10 L220.31 51.60 L220.31 51.10 L220.31 50.60 L220.30 50.10 L220.30 49.60 L220.29 49.10 L220.29 48.60 L220.28 48.10 L220.28 47.60 L220.28 47.10 L220.27 46.60 L220.27 46.10 L220.26 45.60 L220.26 45.10 L220.25 44.60 L220.25 44.10 L220.24 43.60 L220.24 43.10 L220.23 42.60 L220.23 42.10 L220.22 41.60 L220.22 41.10 L220.21 40.60 L220.21 40.10 L220.20 39.60 Z" fill="#3A53A4" stroke="#262626" stroke-width="0.90" stroke-linejoin="round"/>
<line x1="220.20" y1="82.10" x2="220.20" y2="192.60" stroke="#2a2a2a" stroke-width="0.80"/><rect x="217.95" y="125.30" width="4.50" height="41.50" fill="#fff" stroke="#2a2a2a" stroke-width="0.80"/><line x1="217.95" y1="149.00" x2="222.45" y2="149.00" stroke="#1a1a1a" stroke-width="1.0"/>
<line x1="220.20" y1="200.10" x2="220.20" y2="202.00" stroke="#2b2b2b" stroke-width="0.9"/>
<text x="77.50" y="215.80" font-size="10.30" text-anchor="middle" font-weight="normal" >H4</text>
<text x="77.30" y="228.20" font-size="10.30" text-anchor="middle" font-weight="normal" >88-1</text>
<text x="130.40" y="215.80" font-size="10.50" text-anchor="middle" font-weight="normal" >STAG2</text>
<text x="130.20" y="228.20" font-size="10.30" text-anchor="middle" font-weight="normal" >WT</text>
<text x="181.30" y="215.80" font-size="10.30" text-anchor="middle" font-weight="normal" >H4</text>
<text x="220.00" y="215.80" font-size="10.50" text-anchor="middle" font-weight="normal" >STAG2</text>
<text x="220.40" y="228.20" font-size="10.30" text-anchor="middle" font-weight="normal" >MUT</text>
<text x="267.00" y="14.80" font-size="19.00" text-anchor="start" font-weight="bold" >B</text>
<text x="412.80" y="20.40" font-size="13.60" text-anchor="middle" font-weight="normal" >Loop size distribution</text>
<path d="M318.00 26.2 V200.10 H507.50" fill="none" stroke="#2b2b2b" stroke-width="1"/>
<line x1="316.40" y1="193.00" x2="318.00" y2="193.00" stroke="#2b2b2b" stroke-width="0.9"/>
<text x="313.90" y="194.60" font-size="10.25" text-anchor="end" font-weight="normal" >0</text>
<line x1="316.40" y1="153.00" x2="318.00" y2="153.00" stroke="#2b2b2b" stroke-width="0.9"/>
<text x="313.90" y="154.60" font-size="10.25" text-anchor="end" font-weight="normal" >500</text>
<line x1="316.40" y1="113.00" x2="318.00" y2="113.00" stroke="#2b2b2b" stroke-width="0.9"/>
<text x="313.90" y="114.60" font-size="10.25" text-anchor="end" font-weight="normal" >1,000</text>
<line x1="316.40" y1="73.00" x2="318.00" y2="73.00" stroke="#2b2b2b" stroke-width="0.9"/>
<text x="313.90" y="74.60" font-size="10.25" text-anchor="end" font-weight="normal" >1,500</text>
<line x1="316.40" y1="33.00" x2="318.00" y2="33.00" stroke="#2b2b2b" stroke-width="0.9"/>
<text x="313.90" y="34.60" font-size="10.25" text-anchor="end" font-weight="normal" >2,000</text>
<text transform="translate(279.90 146.70) rotate(-90)" font-size="10.4" text-anchor="start">Loop</text>
<text transform="translate(279.90 122.00) rotate(-90)" font-size="10.4" text-anchor="start">Size</text>
<text transform="translate(279.90 97.70) rotate(-90)" font-size="10.4" text-anchor="start">(kb)</text>
<path d="M344.00 34.40 L344.00 34.90 L344.00 35.40 L343.99 35.90 L343.99 36.40 L343.99 36.90 L343.99 37.40 L343.99 37.90 L343.99 38.40 L343.99 38.90 L343.98 39.40 L343.98 39.90 L343.98 40.40 L343.98 40.90 L343.98 41.40 L343.98 41.90 L343.97 42.40 L343.97 42.90 L343.97 43.40 L343.97 43.90 L343.97 44.40 L343.97 44.90 L343.96 45.40 L343.96 45.90 L343.96 46.40 L343.96 46.90 L343.96 47.40 L343.96 47.90 L343.95 48.40 L343.95 48.90 L343.95 49.40 L343.95 49.90 L343.95 50.40 L343.95 50.90 L343.95 51.40 L343.94 51.90 L343.94 52.40 L343.94 52.90 L343.94 53.40 L343.94 53.90 L343.94 54.40 L343.93 54.90 L343.93 55.40 L343.93 55.90 L343.93 56.40 L343.93 56.90 L343.93 57.40 L343.93 57.90 L343.92 58.40 L343.92 58.90 L343.92 59.40 L343.92 59.90 L343.92 60.40 L343.92 60.90 L343.92 61.40 L343.91 61.90 L343.91 62.40 L343.91 62.90 L343.91 63.40 L343.91 63.90 L343.91 64.40 L343.91 64.90 L343.90 65.40 L343.90 65.90 L343.90 66.40 L343.90 66.90 L343.90 67.40 L343.90 67.90 L343.90 68.40 L343.90 68.90 L343.89 69.40 L343.89 69.90 L343.89 70.40 L343.89 70.90 L343.89 71.40 L343.89 71.90 L343.89 72.40 L343.89 72.90 L343.89 73.40 L343.89 73.90 L343.88 74.40 L343.88 74.90 L343.88 75.40 L343.88 75.90 L343.88 76.40 L343.88 76.90 L343.88 77.40 L343.88 77.90 L343.88 78.40 L343.88 78.90 L343.88 79.40 L343.88 79.90 L343.87 80.40 L343.87 80.90 L343.87 81.40 L343.87 81.90 L343.87 82.40 L343.87 82.90 L343.87 83.40 L343.87 83.90 L343.87 84.40 L343.87 84.90 L343.87 85.40 L343.86 85.90 L343.86 86.40 L343.86 86.90 L343.86 87.40 L343.86 87.90 L343.86 88.40 L343.86 88.90 L343.86 89.40 L343.86 89.90 L343.85 90.40 L343.85 90.90 L343.85 91.40 L343.85 91.90 L343.85 92.40 L343.85 92.90 L343.85 93.40 L343.84 93.90 L343.84 94.40 L343.84 94.90 L343.84 95.40 L343.84 95.90 L343.84 96.40 L343.83 96.90 L343.83 97.40 L343.83 97.90 L343.83 98.40 L343.83 98.90 L343.82 99.40 L343.82 99.90 L343.82 100.40 L343.81 100.90 L343.81 101.40 L343.80 101.90 L343.80 102.40 L343.79 102.90 L343.78 103.40 L343.77 103.90 L343.76 104.40 L343.75 104.90 L343.74 105.40 L343.73 105.90 L343.72 106.40 L343.70 106.90 L343.69 107.40 L343.68 107.90 L343.67 108.40 L343.66 108.90 L343.65 109.40 L343.64 109.90 L343.63 110.40 L343.62 110.90 L343.61 111.40 L343.60 111.90 L343.59 112.40 L343.59 112.90 L343.58 113.40 L343.58 113.90 L343.57 114.40 L343.56 114.90 L343.56 115.40 L343.55 115.90 L343.55 116.40 L343.54 116.90 L343.54 117.40 L343.53 117.90 L343.52 118.40 L343.52 118.90 L343.51 119.40 L343.50 119.90 L343.49 120.40 L343.48 120.90 L343.47 121.40 L343.47 121.90 L343.45 122.40 L343.44 122.90 L343.43 123.40 L343.42 123.90 L343.41 124.40 L343.39 124.90 L343.38 125.40 L343.36 125.90 L343.35 126.40 L343.33 126.90 L343.31 127.40 L343.29 127.90 L343.27 128.40 L343.24 128.90 L343.22 129.40 L343.19 129.90 L343.15 130.40 L343.12 130.90 L343.08 131.40 L343.04 131.90 L343.00 132.40 L342.95 132.90 L342.91 133.40 L342.86 133.90 L342.81 134.40 L342.75 134.90 L342.70 135.40 L342.64 135.90 L342.57 136.40 L342.49 136.90 L342.41 137.40 L342.32 137.90 L342.22 138.40 L342.11 138.90 L341.98 139.40 L341.85 139.90 L341.71 140.40 L341.57 140.90 L341.43 141.40 L341.29 141.90 L341.15 142.40 L341.02 142.90 L340.89 143.40 L340.76 143.90 L340.63 144.40 L340.51 144.90 L340.38 145.40 L340.25 145.90 L340.12 146.40 L340.00 146.90 L339.88 147.40 L339.75 147.90 L339.61 148.40 L339.48 148.90 L339.34 149.40 L339.21 149.90 L339.09 150.40 L338.98 150.90 L338.88 151.40 L338.80 151.90 L338.74 152.40 L338.69 152.90 L338.64 153.40 L338.60 153.90 L338.57 154.40 L338.53 154.90 L338.49 155.40 L338.44 155.90 L338.39 156.40 L338.32 156.90 L338.21 157.40 L338.05 157.90 L337.85 158.40 L337.63 158.90 L337.40 159.40 L337.18 159.90 L336.99 160.40 L336.81 160.90 L336.64 161.40 L336.46 161.90 L336.26 162.40 L336.05 162.90 L335.79 163.40 L335.48 163.90 L335.11 164.40 L334.72 164.90 L334.31 165.40 L333.91 165.90 L333.53 166.40 L333.15 166.90 L332.77 167.40 L332.40 167.90 L332.02 168.40 L331.66 168.90 L331.30 169.40 L330.94 169.90 L330.58 170.40 L330.23 170.90 L329.89 171.40 L329.58 171.90 L329.30 172.40 L329.04 172.90 L328.77 173.40 L328.52 173.90 L328.30 174.40 L328.13 174.90 L328.01 175.40 L327.95 175.90 L327.90 176.40 L327.86 176.90 L327.83 177.40 L327.81 177.90 L327.80 178.40 L327.82 178.90 L327.88 179.40 L327.96 179.90 L328.06 180.40 L328.22 180.90 L328.60 181.40 L329.14 181.90 L329.76 182.40 L330.38 182.90 L330.98 183.40 L331.63 183.90 L332.32 184.40 L333.03 184.90 L333.74 185.40 L334.50 185.90 L335.28 186.40 L336.06 186.90 L336.81 187.40 L337.52 187.90 L338.23 188.40 L338.91 188.90 L339.54 189.40 L340.10 189.90 L340.57 190.40 L340.97 190.90 L341.37 191.40 L341.79 191.90 L342.23 192.40 L345.77 192.40 L346.21 191.90 L346.63 191.40 L347.03 190.90 L347.43 190.40 L347.90 189.90 L348.46 189.40 L349.09 188.90 L349.77 188.40 L350.48 187.90 L351.19 187.40 L351.94 186.90 L352.72 186.40 L353.50 185.90 L354.26 185.40 L354.97 184.90 L355.68 184.40 L356.37 183.90 L357.02 183.40 L357.62 182.90 L358.24 182.40 L358.86 181.90 L359.40 181.40 L359.78 180.90 L359.94 180.40 L360.04 179.90 L360.12 179.40 L360.18 178.90 L360.20 178.40 L360.19 177.90 L360.17 177.40 L360.14 176.90 L360.10 176.40 L360.05 175.90 L359.99 175.40 L359.87 174.90 L359.70 174.40 L359.48 173.90 L359.23 173.40 L358.96 172.90 L358.70 172.40 L358.42 171.90 L358.11 171.40 L357.77 170.90 L357.42 170.40 L357.06 169.90 L356.70 169.40 L356.34 168.90 L355.98 168.40 L355.60 167.90 L355.23 167.40 L354.85 166.90 L354.47 166.40 L354.09 165.90 L353.69 165.40 L353.28 164.90 L352.89 164.40 L352.52 163.90 L352.21 163.40 L351.95 162.90 L351.74 162.40 L351.54 161.90 L351.36 161.40 L351.19 160.90 L351.01 160.40 L350.82 159.90 L350.60 159.40 L350.37 158.90 L350.15 158.40 L349.95 157.90 L349.79 157.40 L349.68 156.90 L349.61 156.40 L349.56 155.90 L349.51 155.40 L349.47 154.90 L349.43 154.40 L349.40 153.90 L349.36 153.40 L349.31 152.90 L349.26 152.40 L349.20 151.90 L349.12 151.40 L349.02 150.90 L348.91 150.40 L348.79 149.90 L348.66 149.40 L348.52 148.90 L348.39 148.40 L348.25 147.90 L348.12 147.40 L348.00 146.90 L347.88 146.40 L347.75 145.90 L347.62 145.40 L347.49 144.90 L347.37 144.40 L347.24 143.90 L347.11 143.40 L346.98 142.90 L346.85 142.40 L346.71 141.90 L346.57 141.40 L346.43 140.90 L346.29 140.40 L346.15 139.90 L346.02 139.40 L345.89 138.90 L345.78 138.40 L345.68 137.90 L345.59 137.40 L345.51 136.90 L345.43 136.40 L345.36 135.90 L345.30 135.40 L345.25 134.90 L345.19 134.40 L345.14 133.90 L345.09 133.40 L345.05 132.90 L345.00 132.40 L344.96 131.90 L344.92 131.40 L344.88 130.90 L344.85 130.40 L344.81 129.90 L344.78 129.40 L344.76 128.90 L344.73 128.40 L344.71 127.90 L344.69 127.40 L344.67 126.90 L344.65 126.40 L344.64 125.90 L344.62 125.40 L344.61 124.90 L344.59 124.40 L344.58 123.90 L344.57 123.40 L344.56 122.90 L344.55 122.40 L344.53 121.90 L344.53 121.40 L344.52 120.90 L344.51 120.40 L344.50 119.90 L344.49 119.40 L344.48 118.90 L344.48 118.40 L344.47 117.90 L344.46 117.40 L344.46 116.90 L344.45 116.40 L344.45 115.90 L344.44 115.40 L344.44 114.90 L344.43 114.40 L344.42 113.90 L344.42 113.40 L344.41 112.90 L344.41 112.40 L344.40 111.90 L344.39 111.40 L344.38 110.90 L344.37 110.40 L344.36 109.90 L344.35 109.40 L344.34 108.90 L344.33 108.40 L344.32 107.90 L344.31 107.40 L344.30 106.90 L344.28 106.40 L344.27 105.90 L344.26 105.40 L344.25 104.90 L344.24 104.40 L344.23 103.90 L344.22 103.40 L344.21 102.90 L344.20 102.40 L344.20 101.90 L344.19 101.40 L344.19 100.90 L344.18 100.40 L344.18 99.90 L344.18 99.40 L344.17 98.90 L344.17 98.40 L344.17 97.90 L344.17 97.40 L344.17 96.90 L344.16 96.40 L344.16 95.90 L344.16 95.40 L344.16 94.90 L344.16 94.40 L344.16 93.90 L344.15 93.40 L344.15 92.90 L344.15 92.40 L344.15 91.90 L344.15 91.40 L344.15 90.90 L344.15 90.40 L344.14 89.90 L344.14 89.40 L344.14 88.90 L344.14 88.40 L344.14 87.90 L344.14 87.40 L344.14 86.90 L344.14 86.40 L344.14 85.90 L344.13 85.40 L344.13 84.90 L344.13 84.40 L344.13 83.90 L344.13 83.40 L344.13 82.90 L344.13 82.40 L344.13 81.90 L344.13 81.40 L344.13 80.90 L344.13 80.40 L344.12 79.90 L344.12 79.40 L344.12 78.90 L344.12 78.40 L344.12 77.90 L344.12 77.40 L344.12 76.90 L344.12 76.40 L344.12 75.90 L344.12 75.40 L344.12 74.90 L344.12 74.40 L344.11 73.90 L344.11 73.40 L344.11 72.90 L344.11 72.40 L344.11 71.90 L344.11 71.40 L344.11 70.90 L344.11 70.40 L344.11 69.90 L344.11 69.40 L344.10 68.90 L344.10 68.40 L344.10 67.90 L344.10 67.40 L344.10 66.90 L344.10 66.40 L344.10 65.90 L344.10 65.40 L344.09 64.90 L344.09 64.40 L344.09 63.90 L344.09 63.40 L344.09 62.90 L344.09 62.40 L344.09 61.90 L344.08 61.40 L344.08 60.90 L344.08 60.40 L344.08 59.90 L344.08 59.40 L344.08 58.90 L344.08 58.40 L344.07 57.90 L344.07 57.40 L344.07 56.90 L344.07 56.40 L344.07 55.90 L344.07 55.40 L344.07 54.90 L344.06 54.40 L344.06 53.90 L344.06 53.40 L344.06 52.90 L344.06 52.40 L344.06 51.90 L344.05 51.40 L344.05 50.90 L344.05 50.40 L344.05 49.90 L344.05 49.40 L344.05 48.90 L344.05 48.40 L344.04 47.90 L344.04 47.40 L344.04 46.90 L344.04 46.40 L344.04 45.90 L344.04 45.40 L344.03 44.90 L344.03 44.40 L344.03 43.90 L344.03 43.40 L344.03 42.90 L344.03 42.40 L344.02 41.90 L344.02 41.40 L344.02 40.90 L344.02 40.40 L344.02 39.90 L344.02 39.40 L344.01 38.90 L344.01 38.40 L344.01 37.90 L344.01 37.40 L344.01 36.90 L344.01 36.40 L344.01 35.90 L344.00 35.40 L344.00 34.90 L344.00 34.40 Z" fill="#BDBDBD" stroke="#262626" stroke-width="0.90" stroke-linejoin="round"/>
<line x1="344.00" y1="132.40" x2="344.00" y2="192.80" stroke="#2a2a2a" stroke-width="0.80"/><rect x="341.75" y="161.50" width="4.50" height="18.80" fill="#fff" stroke="#2a2a2a" stroke-width="0.80"/><line x1="341.75" y1="173.20" x2="346.25" y2="173.20" stroke="#1a1a1a" stroke-width="1.0"/>
<line x1="344.00" y1="200.10" x2="344.00" y2="202.00" stroke="#2b2b2b" stroke-width="0.9"/>
<path d="M394.30 92.30 L394.30 92.80 L394.29 93.30 L394.29 93.80 L394.28 94.30 L394.28 94.80 L394.27 95.30 L394.27 95.80 L394.26 96.30 L394.26 96.80 L394.25 97.30 L394.25 97.80 L394.24 98.30 L394.24 98.80 L394.24 99.30 L394.23 99.80 L394.23 100.30 L394.22 100.80 L394.22 101.30 L394.21 101.80 L394.21 102.30 L394.21 102.80 L394.20 103.30 L394.20 103.80 L394.20 104.30 L394.19 104.80 L394.19 105.30 L394.19 105.80 L394.18 106.30 L394.18 106.80 L394.18 107.30 L394.17 107.80 L394.17 108.30 L394.17 108.80 L394.17 109.30 L394.16 109.80 L394.16 110.30 L394.16 110.80 L394.15 111.30 L394.15 111.80 L394.15 112.30 L394.14 112.80 L394.14 113.30 L394.13 113.80 L394.13 114.30 L394.12 114.80 L394.12 115.30 L394.11 115.80 L394.10 116.30 L394.08 116.80 L394.07 117.30 L394.05 117.80 L394.04 118.30 L394.03 118.80 L394.01 119.30 L394.00 119.80 L394.00 120.30 L393.99 120.80 L393.98 121.30 L393.98 121.80 L393.97 122.30 L393.97 122.80 L393.97 123.30 L393.96 123.80 L393.96 124.30 L393.96 124.80 L393.95 125.30 L393.95 125.80 L393.95 126.30 L393.94 126.80 L393.94 127.30 L393.93 127.80 L393.92 128.30 L393.91 128.80 L393.90 129.30 L393.87 129.80 L393.83 130.30 L393.76 130.80 L393.68 131.30 L393.60 131.80 L393.52 132.30 L393.43 132.80 L393.32 133.30 L393.19 133.80 L393.06 134.30 L392.94 134.80 L392.83 135.30 L392.75 135.80 L392.70 136.30 L392.71 136.80 L392.78 137.30 L392.87 137.80 L392.95 138.30 L393.05 138.80 L393.17 139.30 L393.29 139.80 L393.40 140.30 L393.50 140.80 L393.57 141.30 L393.60 141.80 L393.58 142.30 L393.48 142.80 L393.34 143.30 L393.16 143.80 L392.96 144.30 L392.75 144.80 L392.54 145.30 L392.37 145.80 L392.20 146.30 L392.03 146.80 L391.86 147.30 L391.69 147.80 L391.51 148.30 L391.32 148.80 L391.13 149.30 L390.91 149.80 L390.67 150.30 L390.39 150.80 L390.11 151.30 L389.82 151.80 L389.54 152.30 L389.28 152.80 L389.04 153.30 L388.82 153.80 L388.59 154.30 L388.38 154.80 L388.20 155.30 L388.11 155.80 L388.11 156.30 L388.14 156.80 L388.20 157.30 L388.30 157.80 L388.47 158.30 L388.65 158.80 L388.80 159.30 L388.94 159.80 L389.08 160.30 L389.21 160.80 L389.29 161.30 L389.28 161.80 L389.06 162.30 L388.68 162.80 L388.22 163.30 L387.78 163.80 L387.38 164.30 L386.96 164.80 L386.52 165.30 L386.06 165.80 L385.60 166.30 L385.12 166.80 L384.62 167.30 L384.11 167.80 L383.59 168.30 L383.09 168.80 L382.60 169.30 L382.12 169.80 L381.66 170.30 L381.20 170.80 L380.76 171.30 L380.32 171.80 L379.89 172.30 L379.47 172.80 L379.07 173.30 L378.69 173.80 L378.30 174.30 L377.90 174.80 L377.48 175.30 L377.00 175.80 L376.41 176.30 L375.77 176.80 L375.18 177.30 L374.69 177.80 L374.40 178.30 L374.24 178.80 L374.11 179.30 L374.02 179.80 L374.01 180.30 L374.28 180.80 L374.81 181.30 L375.47 181.80 L376.13 182.30 L376.84 182.80 L377.67 183.30 L378.55 183.80 L379.45 184.30 L380.34 184.80 L381.28 185.30 L382.24 185.80 L383.19 186.30 L384.10 186.80 L384.98 187.30 L385.86 187.80 L386.70 188.30 L387.48 188.80 L388.16 189.30 L388.77 189.80 L389.33 190.30 L389.87 190.80 L390.42 191.30 L390.96 191.80 L391.49 192.30 L397.11 192.30 L397.64 191.80 L398.18 191.30 L398.73 190.80 L399.27 190.30 L399.83 189.80 L400.44 189.30 L401.12 188.80 L401.90 188.30 L402.74 187.80 L403.62 187.30 L404.50 186.80 L405.41 186.30 L406.36 185.80 L407.32 185.30 L408.26 184.80 L409.15 184.30 L410.05 183.80 L410.93 183.30 L411.76 182.80 L412.47 182.30 L413.13 181.80 L413.79 181.30 L414.32 180.80 L414.59 180.30 L414.58 179.80 L414.49 179.30 L414.36 178.80 L414.20 178.30 L413.91 177.80 L413.42 177.30 L412.83 176.80 L412.19 176.30 L411.60 175.80 L411.12 175.30 L410.70 174.80 L410.30 174.30 L409.91 173.80 L409.53 173.30 L409.13 172.80 L408.71 172.30 L408.28 171.80 L407.84 171.30 L407.40 170.80 L406.94 170.30 L406.48 169.80 L406.00 169.30 L405.51 168.80 L405.01 168.30 L404.49 167.80 L403.98 167.30 L403.48 166.80 L403.00 166.30 L402.54 165.80 L402.08 165.30 L401.64 164.80 L401.22 164.30 L400.82 163.80 L400.38 163.30 L399.92 162.80 L399.54 162.30 L399.32 161.80 L399.31 161.30 L399.39 160.80 L399.52 160.30 L399.66 159.80 L399.80 159.30 L399.95 158.80 L400.13 158.30 L400.30 157.80 L400.40 157.30 L400.46 156.80 L400.49 156.30 L400.49 155.80 L400.40 155.30 L400.22 154.80 L400.01 154.30 L399.78 153.80 L399.56 153.30 L399.32 152.80 L399.06 152.30 L398.78 151.80 L398.49 151.30 L398.21 150.80 L397.93 150.30 L397.69 149.80 L397.47 149.30 L397.28 148.80 L397.09 148.30 L396.91 147.80 L396.74 147.30 L396.57 146.80 L396.40 146.30 L396.23 145.80 L396.06 145.30 L395.85 144.80 L395.64 144.30 L395.44 143.80 L395.26 143.30 L395.12 142.80 L395.02 142.30 L395.00 141.80 L395.03 141.30 L395.10 140.80 L395.20 140.30 L395.31 139.80 L395.43 139.30 L395.55 138.80 L395.65 138.30 L395.73 137.80 L395.82 137.30 L395.89 136.80 L395.90 136.30 L395.85 135.80 L395.77 135.30 L395.66 134.80 L395.54 134.30 L395.41 133.80 L395.28 133.30 L395.17 132.80 L395.08 132.30 L395.00 131.80 L394.92 131.30 L394.84 130.80 L394.77 130.30 L394.73 129.80 L394.70 129.30 L394.69 128.80 L394.68 128.30 L394.67 127.80 L394.66 127.30 L394.66 126.80 L394.65 126.30 L394.65 125.80 L394.65 125.30 L394.64 124.80 L394.64 124.30 L394.64 123.80 L394.63 123.30 L394.63 122.80 L394.63 122.30 L394.62 121.80 L394.62 121.30 L394.61 120.80 L394.60 120.30 L394.60 119.80 L394.59 119.30 L394.57 118.80 L394.56 118.30 L394.55 117.80 L394.53 117.30 L394.52 116.80 L394.50 116.30 L394.49 115.80 L394.48 115.30 L394.48 114.80 L394.47 114.30 L394.47 113.80 L394.46 113.30 L394.46 112.80 L394.45 112.30 L394.45 111.80 L394.45 111.30 L394.44 110.80 L394.44 110.30 L394.44 109.80 L394.43 109.30 L394.43 108.80 L394.43 108.30 L394.43 107.80 L394.42 107.30 L394.42 106.80 L394.42 106.30 L394.41 105.80 L394.41 105.30 L394.41 104.80 L394.40 104.30 L394.40 103.80 L394.40 103.30 L394.39 102.80 L394.39 102.30 L394.39 101.80 L394.38 101.30 L394.38 100.80 L394.37 100.30 L394.37 99.80 L394.36 99.30 L394.36 98.80 L394.36 98.30 L394.35 97.80 L394.35 97.30 L394.34 96.80 L394.34 96.30 L394.33 95.80 L394.33 95.30 L394.32 94.80 L394.32 94.30 L394.31 93.80 L394.31 93.30 L394.30 92.80 L394.30 92.30 Z" fill="#ED1C24" stroke="#262626" stroke-width="0.90" stroke-linejoin="round"/>
<line x1="394.30" y1="133.80" x2="394.30" y2="192.70" stroke="#2a2a2a" stroke-width="0.80"/><rect x="392.05" y="165.50" width="4.50" height="16.20" fill="#fff" stroke="#2a2a2a" stroke-width="0.80"/><line x1="392.05" y1="176.20" x2="396.55" y2="176.20" stroke="#1a1a1a" stroke-width="1.0"/>
<line x1="394.30" y1="200.10" x2="394.30" y2="202.00" stroke="#2b2b2b" stroke-width="0.9"/>
<path d="M444.70 33.70 L444.70 34.20 L444.70 34.70 L444.69 35.20 L444.69 35.70 L444.69 36.20 L444.69 36.70 L444.69 37.20 L444.68 37.70 L444.68 38.20 L444.68 38.70 L444.68 39.20 L444.67 39.70 L444.67 40.20 L444.67 40.70 L444.67 41.20 L444.67 41.70 L444.66 42.20 L444.66 42.70 L444.66 43.20 L444.66 43.70 L444.66 44.20 L444.65 44.70 L444.65 45.20 L444.65 45.70 L444.65 46.20 L444.65 46.70 L444.64 47.20 L444.64 47.70 L444.64 48.20 L444.64 48.70 L444.64 49.20 L444.64 49.70 L444.63 50.20 L444.63 50.70 L444.63 51.20 L444.63 51.70 L444.63 52.20 L444.62 52.70 L444.62 53.20 L444.62 53.70 L444.62 54.20 L444.62 54.70 L444.61 55.20 L444.61 55.70 L444.61 56.20 L444.61 56.70 L444.61 57.20 L444.61 57.70 L444.60 58.20 L444.60 58.70 L444.60 59.20 L444.60 59.70 L444.60 60.20 L444.60 60.70 L444.59 61.20 L444.59 61.70 L444.59 62.20 L444.59 62.70 L444.59 63.20 L444.59 63.70 L444.59 64.20 L444.58 64.70 L444.58 65.20 L444.58 65.70 L444.58 66.20 L444.58 66.70 L444.58 67.20 L444.58 67.70 L444.58 68.20 L444.58 68.70 L444.57 69.20 L444.57 69.70 L444.57 70.20 L444.57 70.70 L444.57 71.20 L444.57 71.70 L444.57 72.20 L444.57 72.70 L444.57 73.20 L444.56 73.70 L444.56 74.20 L444.56 74.70 L444.56 75.20 L444.56 75.70 L444.56 76.20 L444.56 76.70 L444.55 77.20 L444.55 77.70 L444.55 78.20 L444.55 78.70 L444.55 79.20 L444.55 79.70 L444.54 80.20 L444.54 80.70 L444.54 81.20 L444.54 81.70 L444.53 82.20 L444.53 82.70 L444.53 83.20 L444.53 83.70 L444.52 84.20 L444.52 84.70 L444.52 85.20 L444.51 85.70 L444.51 86.20 L444.50 86.70 L444.50 87.20 L444.49 87.70 L444.48 88.20 L444.47 88.70 L444.46 89.20 L444.45 89.70 L444.44 90.20 L444.43 90.70 L444.42 91.20 L444.41 91.70 L444.40 92.20 L444.38 92.70 L444.37 93.20 L444.36 93.70 L444.34 94.20 L444.33 94.70 L444.32 95.20 L444.30 95.70 L444.29 96.20 L444.28 96.70 L444.27 97.20 L444.25 97.70 L444.24 98.20 L444.23 98.70 L444.22 99.20 L444.21 99.70 L444.20 100.20 L444.19 100.70 L444.18 101.20 L444.17 101.70 L444.16 102.20 L444.15 102.70 L444.14 103.20 L444.13 103.70 L444.12 104.20 L444.11 104.70 L444.10 105.20 L444.10 105.70 L444.09 106.20 L444.08 106.70 L444.07 107.20 L444.06 107.70 L444.06 108.20 L444.05 108.70 L444.04 109.20 L444.03 109.70 L444.02 110.20 L444.01 110.70 L444.00 111.20 L444.00 111.70 L443.99 112.20 L443.98 112.70 L443.97 113.20 L443.96 113.70 L443.95 114.20 L443.94 114.70 L443.93 115.20 L443.91 115.70 L443.90 116.20 L443.89 116.70 L443.88 117.20 L443.87 117.70 L443.85 118.20 L443.84 118.70 L443.82 119.20 L443.81 119.70 L443.79 120.20 L443.78 120.70 L443.76 121.20 L443.74 121.70 L443.71 122.20 L443.69 122.70 L443.66 123.20 L443.64 123.70 L443.61 124.20 L443.58 124.70 L443.55 125.20 L443.52 125.70 L443.49 126.20 L443.46 126.70 L443.43 127.20 L443.40 127.70 L443.37 128.20 L443.34 128.70 L443.31 129.20 L443.27 129.70 L443.24 130.20 L443.21 130.70 L443.17 131.20 L443.13 131.70 L443.10 132.20 L443.06 132.70 L443.01 133.20 L442.97 133.70 L442.92 134.20 L442.87 134.70 L442.82 135.20 L442.77 135.70 L442.70 136.20 L442.63 136.70 L442.54 137.20 L442.46 137.70 L442.36 138.20 L442.26 138.70 L442.14 139.20 L442.02 139.70 L441.88 140.20 L441.75 140.70 L441.60 141.20 L441.46 141.70 L441.32 142.20 L441.17 142.70 L441.02 143.20 L440.86 143.70 L440.70 144.20 L440.53 144.70 L440.37 145.20 L440.20 145.70 L440.04 146.20 L439.88 146.70 L439.73 147.20 L439.58 147.70 L439.44 148.20 L439.30 148.70 L439.16 149.20 L439.02 149.70 L438.89 150.20 L438.76 150.70 L438.65 151.20 L438.54 151.70 L438.44 152.20 L438.36 152.70 L438.28 153.20 L438.22 153.70 L438.15 154.20 L438.09 154.70 L438.02 155.20 L437.94 155.70 L437.86 156.20 L437.76 156.70 L437.65 157.20 L437.50 157.70 L437.32 158.20 L437.13 158.70 L436.93 159.20 L436.74 159.70 L436.57 160.20 L436.42 160.70 L436.29 161.20 L436.16 161.70 L436.03 162.20 L435.88 162.70 L435.70 163.20 L435.48 163.70 L435.20 164.20 L434.89 164.70 L434.57 165.20 L434.25 165.70 L433.96 166.20 L433.68 166.70 L433.41 167.20 L433.13 167.70 L432.87 168.20 L432.62 168.70 L432.39 169.20 L432.17 169.70 L431.97 170.20 L431.78 170.70 L431.60 171.20 L431.43 171.70 L431.27 172.20 L431.10 172.70 L430.95 173.20 L430.80 173.70 L430.66 174.20 L430.52 174.70 L430.38 175.20 L430.24 175.70 L430.06 176.20 L429.93 176.70 L429.90 177.20 L429.90 177.70 L429.90 178.20 L429.97 178.70 L430.23 179.20 L430.61 179.70 L431.05 180.20 L431.49 180.70 L431.99 181.20 L432.57 181.70 L433.22 182.20 L433.89 182.70 L434.58 183.20 L435.34 183.70 L436.14 184.20 L436.93 184.70 L437.67 185.20 L438.33 185.70 L438.96 186.20 L439.56 186.70 L440.11 187.20 L440.59 187.70 L441.02 188.20 L441.42 188.70 L441.77 189.20 L442.09 189.70 L442.35 190.20 L442.58 190.70 L442.78 191.20 L442.98 191.70 L443.20 192.20 L443.45 192.70 L445.95 192.70 L446.20 192.20 L446.42 191.70 L446.62 191.20 L446.82 190.70 L447.05 190.20 L447.31 189.70 L447.63 189.20 L447.98 188.70 L448.38 188.20 L448.81 187.70 L449.29 187.20 L449.84 186.70 L450.44 186.20 L451.07 185.70 L451.73 185.20 L452.47 184.70 L453.26 184.20 L454.06 183.70 L454.82 183.20 L455.51 182.70 L456.18 182.20 L456.83 181.70 L457.41 181.20 L457.91 180.70 L458.35 180.20 L458.79 179.70 L459.17 179.20 L459.43 178.70 L459.50 178.20 L459.50 177.70 L459.50 177.20 L459.47 176.70 L459.34 176.20 L459.16 175.70 L459.02 175.20 L458.88 174.70 L458.74 174.20 L458.60 173.70 L458.45 173.20 L458.30 172.70 L458.13 172.20 L457.97 171.70 L457.80 171.20 L457.62 170.70 L457.43 170.20 L457.23 169.70 L457.01 169.20 L456.78 168.70 L456.53 168.20 L456.27 167.70 L455.99 167.20 L455.72 166.70 L455.44 166.20 L455.15 165.70 L454.83 165.20 L454.51 164.70 L454.20 164.20 L453.92 163.70 L453.70 163.20 L453.52 162.70 L453.37 162.20 L453.24 161.70 L453.11 161.20 L452.98 160.70 L452.83 160.20 L452.66 159.70 L452.47 159.20 L452.27 158.70 L452.08 158.20 L451.90 157.70 L451.75 157.20 L451.64 156.70 L451.54 156.20 L451.46 155.70 L451.38 155.20 L451.31 154.70 L451.25 154.20 L451.18 153.70 L451.12 153.20 L451.04 152.70 L450.96 152.20 L450.86 151.70 L450.75 151.20 L450.64 150.70 L450.51 150.20 L450.38 149.70 L450.24 149.20 L450.10 148.70 L449.96 148.20 L449.82 147.70 L449.67 147.20 L449.52 146.70 L449.36 146.20 L449.20 145.70 L449.03 145.20 L448.87 144.70 L448.70 144.20 L448.54 143.70 L448.38 143.20 L448.23 142.70 L448.08 142.20 L447.94 141.70 L447.80 141.20 L447.65 140.70 L447.52 140.20 L447.38 139.70 L447.26 139.20 L447.14 138.70 L447.04 138.20 L446.94 137.70 L446.86 137.20 L446.77 136.70 L446.70 136.20 L446.63 135.70 L446.58 135.20 L446.53 134.70 L446.48 134.20 L446.43 133.70 L446.39 133.20 L446.34 132.70 L446.30 132.20 L446.27 131.70 L446.23 131.20 L446.19 130.70 L446.16 130.20 L446.13 129.70 L446.09 129.20 L446.06 128.70 L446.03 128.20 L446.00 127.70 L445.97 127.20 L445.94 126.70 L445.91 126.20 L445.88 125.70 L445.85 125.20 L445.82 124.70 L445.79 124.20 L445.76 123.70 L445.74 123.20 L445.71 122.70 L445.69 122.20 L445.66 121.70 L445.64 121.20 L445.62 120.70 L445.61 120.20 L445.59 119.70 L445.58 119.20 L445.56 118.70 L445.55 118.20 L445.53 117.70 L445.52 117.20 L445.51 116.70 L445.50 116.20 L445.49 115.70 L445.47 115.20 L445.46 114.70 L445.45 114.20 L445.44 113.70 L445.43 113.20 L445.42 112.70 L445.41 112.20 L445.40 111.70 L445.40 111.20 L445.39 110.70 L445.38 110.20 L445.37 109.70 L445.36 109.20 L445.35 108.70 L445.34 108.20 L445.34 107.70 L445.33 107.20 L445.32 106.70 L445.31 106.20 L445.30 105.70 L445.30 105.20 L445.29 104.70 L445.28 104.20 L445.27 103.70 L445.26 103.20 L445.25 102.70 L445.24 102.20 L445.23 101.70 L445.22 101.20 L445.21 100.70 L445.20 100.20 L445.19 99.70 L445.18 99.20 L445.17 98.70 L445.16 98.20 L445.15 97.70 L445.13 97.20 L445.12 96.70 L445.11 96.20 L445.10 95.70 L445.08 95.20 L445.07 94.70 L445.06 94.20 L445.04 93.70 L445.03 93.20 L445.02 92.70 L445.00 92.20 L444.99 91.70 L444.98 91.20 L444.97 90.70 L444.96 90.20 L444.95 89.70 L444.94 89.20 L444.93 88.70 L444.92 88.20 L444.91 87.70 L444.90 87.20 L444.90 86.70 L444.89 86.20 L444.89 85.70 L444.88 85.20 L444.88 84.70 L444.88 84.20 L444.87 83.70 L444.87 83.20 L444.87 82.70 L444.87 82.20 L444.86 81.70 L444.86 81.20 L444.86 80.70 L444.86 80.20 L444.85 79.70 L444.85 79.20 L444.85 78.70 L444.85 78.20 L444.85 77.70 L444.85 77.20 L444.84 76.70 L444.84 76.20 L444.84 75.70 L444.84 75.20 L444.84 74.70 L444.84 74.20 L444.84 73.70 L444.83 73.20 L444.83 72.70 L444.83 72.20 L444.83 71.70 L444.83 71.20 L444.83 70.70 L444.83 70.20 L444.83 69.70 L444.83 69.20 L444.82 68.70 L444.82 68.20 L444.82 67.70 L444.82 67.20 L444.82 66.70 L444.82 66.20 L444.82 65.70 L444.82 65.20 L444.82 64.70 L444.81 64.20 L444.81 63.70 L444.81 63.20 L444.81 62.70 L444.81 62.20 L444.81 61.70 L444.81 61.20 L444.80 60.70 L444.80 60.20 L444.80 59.70 L444.80 59.20 L444.80 58.70 L444.80 58.20 L444.79 57.70 L444.79 57.20 L444.79 56.70 L444.79 56.20 L444.79 55.70 L444.79 55.20 L444.78 54.70 L444.78 54.20 L444.78 53.70 L444.78 53.20 L444.78 52.70 L444.77 52.20 L444.77 51.70 L444.77 51.20 L444.77 50.70 L444.77 50.20 L444.76 49.70 L444.76 49.20 L444.76 48.70 L444.76 48.20 L444.76 47.70 L444.76 47.20 L444.75 46.70 L444.75 46.20 L444.75 45.70 L444.75 45.20 L444.75 44.70 L444.74 44.20 L444.74 43.70 L444.74 43.20 L444.74 42.70 L444.74 42.20 L444.73 41.70 L444.73 41.20 L444.73 40.70 L444.73 40.20 L444.73 39.70 L444.72 39.20 L444.72 38.70 L444.72 38.20 L444.72 37.70 L444.71 37.20 L444.71 36.70 L444.71 36.20 L444.71 35.70 L444.71 35.20 L444.70 34.70 L444.70 34.20 L444.70 33.70 Z" fill="#6E6F71" stroke="#262626" stroke-width="0.90" stroke-linejoin="round"/>
<line x1="444.70" y1="122.70" x2="444.70" y2="192.80" stroke="#2a2a2a" stroke-width="0.80"/><rect x="442.45" y="156.60" width="4.50" height="21.30" fill="#fff" stroke="#2a2a2a" stroke-width="0.80"/><line x1="442.45" y1="169.50" x2="446.95" y2="169.50" stroke="#1a1a1a" stroke-width="1.0"/>
<line x1="444.70" y1="200.10" x2="444.70" y2="202.00" stroke="#2b2b2b" stroke-width="0.9"/>
<path d="M488.40 46.00 L488.40 46.50 L488.39 47.00 L488.39 47.50 L488.38 48.00 L488.38 48.50 L488.37 49.00 L488.37 49.50 L488.36 50.00 L488.36 50.50 L488.36 51.00 L488.35 51.50 L488.35 52.00 L488.34 52.50 L488.34 53.00 L488.33 53.50 L488.33 54.00 L488.33 54.50 L488.32 55.00 L488.32 55.50 L488.32 56.00 L488.31 56.50 L488.31 57.00 L488.30 57.50 L488.30 58.00 L488.30 58.50 L488.29 59.00 L488.29 59.50 L488.29 60.00 L488.28 60.50 L488.28 61.00 L488.28 61.50 L488.27 62.00 L488.27 62.50 L488.27 63.00 L488.27 63.50 L488.26 64.00 L488.26 64.50 L488.26 65.00 L488.25 65.50 L488.25 66.00 L488.25 66.50 L488.24 67.00 L488.24 67.50 L488.24 68.00 L488.23 68.50 L488.23 69.00 L488.22 69.50 L488.22 70.00 L488.22 70.50 L488.21 71.00 L488.20 71.50 L488.20 72.00 L488.19 72.50 L488.18 73.00 L488.18 73.50 L488.17 74.00 L488.16 74.50 L488.15 75.00 L488.15 75.50 L488.14 76.00 L488.13 76.50 L488.12 77.00 L488.11 77.50 L488.10 78.00 L488.09 78.50 L488.08 79.00 L488.07 79.50 L488.06 80.00 L488.05 80.50 L488.04 81.00 L488.03 81.50 L488.02 82.00 L488.01 82.50 L488.00 83.00 L487.99 83.50 L487.98 84.00 L487.97 84.50 L487.96 85.00 L487.95 85.50 L487.94 86.00 L487.93 86.50 L487.91 87.00 L487.90 87.50 L487.89 88.00 L487.88 88.50 L487.87 89.00 L487.85 89.50 L487.84 90.00 L487.83 90.50 L487.82 91.00 L487.80 91.50 L487.79 92.00 L487.78 92.50 L487.76 93.00 L487.75 93.50 L487.74 94.00 L487.72 94.50 L487.71 95.00 L487.69 95.50 L487.68 96.00 L487.66 96.50 L487.65 97.00 L487.63 97.50 L487.61 98.00 L487.60 98.50 L487.58 99.00 L487.56 99.50 L487.54 100.00 L487.52 100.50 L487.51 101.00 L487.49 101.50 L487.46 102.00 L487.44 102.50 L487.42 103.00 L487.40 103.50 L487.38 104.00 L487.36 104.50 L487.33 105.00 L487.31 105.50 L487.29 106.00 L487.26 106.50 L487.24 107.00 L487.21 107.50 L487.19 108.00 L487.16 108.50 L487.14 109.00 L487.11 109.50 L487.09 110.00 L487.07 110.50 L487.04 111.00 L487.02 111.50 L486.99 112.00 L486.97 112.50 L486.94 113.00 L486.92 113.50 L486.90 114.00 L486.87 114.50 L486.85 115.00 L486.83 115.50 L486.81 116.00 L486.79 116.50 L486.77 117.00 L486.75 117.50 L486.72 118.00 L486.69 118.50 L486.67 119.00 L486.63 119.50 L486.60 120.00 L486.56 120.50 L486.50 121.00 L486.43 121.50 L486.36 122.00 L486.28 122.50 L486.19 123.00 L486.10 123.50 L486.00 124.00 L485.91 124.50 L485.81 125.00 L485.72 125.50 L485.64 126.00 L485.56 126.50 L485.48 127.00 L485.42 127.50 L485.37 128.00 L485.32 128.50 L485.28 129.00 L485.25 129.50 L485.21 130.00 L485.18 130.50 L485.15 131.00 L485.13 131.50 L485.10 132.00 L485.06 132.50 L485.03 133.00 L484.99 133.50 L484.95 134.00 L484.90 134.50 L484.85 135.00 L484.79 135.50 L484.71 136.00 L484.61 136.50 L484.49 137.00 L484.35 137.50 L484.20 138.00 L484.02 138.50 L483.80 139.00 L483.54 139.50 L483.26 140.00 L482.97 140.50 L482.68 141.00 L482.41 141.50 L482.15 142.00 L481.88 142.50 L481.59 143.00 L481.30 143.50 L481.02 144.00 L480.78 144.50 L480.57 145.00 L480.43 145.50 L480.36 146.00 L480.30 146.50 L480.25 147.00 L480.21 147.50 L480.20 148.00 L480.21 148.50 L480.25 149.00 L480.30 149.50 L480.34 150.00 L480.38 150.50 L480.40 151.00 L480.39 151.50 L480.37 152.00 L480.34 152.50 L480.30 153.00 L480.25 153.50 L480.20 154.00 L480.14 154.50 L480.07 155.00 L479.98 155.50 L479.89 156.00 L479.79 156.50 L479.70 157.00 L479.60 157.50 L479.47 158.00 L479.34 158.50 L479.23 159.00 L479.14 159.50 L479.10 160.00 L479.10 160.50 L479.10 161.00 L479.10 161.50 L479.10 162.00 L479.10 162.50 L479.10 163.00 L479.10 163.50 L479.13 164.00 L479.17 164.50 L479.23 165.00 L479.29 165.50 L479.36 166.00 L479.43 166.50 L479.50 167.00 L479.59 167.50 L479.69 168.00 L479.80 168.50 L479.91 169.00 L480.02 169.50 L480.14 170.00 L480.27 170.50 L480.40 171.00 L480.54 171.50 L480.68 172.00 L480.83 172.50 L480.98 173.00 L481.13 173.50 L481.29 174.00 L481.45 174.50 L481.62 175.00 L481.80 175.50 L481.99 176.00 L482.18 176.50 L482.39 177.00 L482.60 177.50 L482.81 178.00 L483.03 178.50 L483.26 179.00 L483.48 179.50 L483.72 180.00 L483.97 180.50 L484.22 181.00 L484.46 181.50 L484.71 182.00 L484.94 182.50 L485.18 183.00 L485.42 183.50 L485.65 184.00 L485.87 184.50 L486.08 185.00 L486.28 185.50 L486.46 186.00 L486.65 186.50 L486.82 187.00 L486.97 187.50 L487.11 188.00 L487.22 188.50 L487.32 189.00 L487.41 189.50 L487.50 190.00 L487.59 190.50 L487.66 191.00 L487.72 191.50 L487.76 192.00 L487.80 192.50 L489.00 192.50 L489.04 192.00 L489.08 191.50 L489.14 191.00 L489.21 190.50 L489.30 190.00 L489.39 189.50 L489.48 189.00 L489.58 188.50 L489.69 188.00 L489.83 187.50 L489.98 187.00 L490.15 186.50 L490.34 186.00 L490.52 185.50 L490.72 185.00 L490.93 184.50 L491.15 184.00 L491.38 183.50 L491.62 183.00 L491.86 182.50 L492.09 182.00 L492.34 181.50 L492.58 181.00 L492.83 180.50 L493.08 180.00 L493.32 179.50 L493.54 179.00 L493.77 178.50 L493.99 178.00 L494.20 177.50 L494.41 177.00 L494.62 176.50 L494.81 176.00 L495.00 175.50 L495.18 175.00 L495.35 174.50 L495.51 174.00 L495.67 173.50 L495.82 173.00 L495.97 172.50 L496.12 172.00 L496.26 171.50 L496.40 171.00 L496.53 170.50 L496.66 170.00 L496.78 169.50 L496.89 169.00 L497.00 168.50 L497.11 168.00 L497.21 167.50 L497.30 167.00 L497.37 166.50 L497.44 166.00 L497.51 165.50 L497.57 165.00 L497.63 164.50 L497.67 164.00 L497.70 163.50 L497.70 163.00 L497.70 162.50 L497.70 162.00 L497.70 161.50 L497.70 161.00 L497.70 160.50 L497.70 160.00 L497.66 159.50 L497.57 159.00 L497.46 158.50 L497.33 158.00 L497.20 157.50 L497.10 157.00 L497.01 156.50 L496.91 156.00 L496.82 155.50 L496.73 155.00 L496.66 154.50 L496.60 154.00 L496.55 153.50 L496.50 153.00 L496.46 152.50 L496.43 152.00 L496.41 151.50 L496.40 151.00 L496.42 150.50 L496.46 150.00 L496.50 149.50 L496.55 149.00 L496.59 148.50 L496.60 148.00 L496.59 147.50 L496.55 147.00 L496.50 146.50 L496.44 146.00 L496.37 145.50 L496.23 145.00 L496.02 144.50 L495.78 144.00 L495.50 143.50 L495.21 143.00 L494.92 142.50 L494.65 142.00 L494.39 141.50 L494.12 141.00 L493.83 140.50 L493.54 140.00 L493.26 139.50 L493.00 139.00 L492.78 138.50 L492.60 138.00 L492.45 137.50 L492.31 137.00 L492.19 136.50 L492.09 136.00 L492.01 135.50 L491.95 135.00 L491.90 134.50 L491.85 134.00 L491.81 133.50 L491.77 133.00 L491.74 132.50 L491.70 132.00 L491.67 131.50 L491.65 131.00 L491.62 130.50 L491.59 130.00 L491.55 129.50 L491.52 129.00 L491.48 128.50 L491.43 128.00 L491.38 127.50 L491.32 127.00 L491.24 126.50 L491.16 126.00 L491.08 125.50 L490.99 125.00 L490.89 124.50 L490.80 124.00 L490.70 123.50 L490.61 123.00 L490.52 122.50 L490.44 122.00 L490.37 121.50 L490.30 121.00 L490.24 120.50 L490.20 120.00 L490.17 119.50 L490.13 119.00 L490.11 118.50 L490.08 118.00 L490.05 117.50 L490.03 117.00 L490.01 116.50 L489.99 116.00 L489.97 115.50 L489.95 115.00 L489.93 114.50 L489.90 114.00 L489.88 113.50 L489.86 113.00 L489.83 112.50 L489.81 112.00 L489.78 111.50 L489.76 111.00 L489.73 110.50 L489.71 110.00 L489.69 109.50 L489.66 109.00 L489.64 108.50 L489.61 108.00 L489.59 107.50 L489.56 107.00 L489.54 106.50 L489.51 106.00 L489.49 105.50 L489.47 105.00 L489.44 104.50 L489.42 104.00 L489.40 103.50 L489.38 103.00 L489.36 102.50 L489.34 102.00 L489.31 101.50 L489.29 101.00 L489.28 100.50 L489.26 100.00 L489.24 99.50 L489.22 99.00 L489.20 98.50 L489.19 98.00 L489.17 97.50 L489.15 97.00 L489.14 96.50 L489.12 96.00 L489.11 95.50 L489.09 95.00 L489.08 94.50 L489.06 94.00 L489.05 93.50 L489.04 93.00 L489.02 92.50 L489.01 92.00 L489.00 91.50 L488.98 91.00 L488.97 90.50 L488.96 90.00 L488.95 89.50 L488.93 89.00 L488.92 88.50 L488.91 88.00 L488.90 87.50 L488.89 87.00 L488.87 86.50 L488.86 86.00 L488.85 85.50 L488.84 85.00 L488.83 84.50 L488.82 84.00 L488.81 83.50 L488.80 83.00 L488.79 82.50 L488.78 82.00 L488.77 81.50 L488.76 81.00 L488.75 80.50 L488.74 80.00 L488.73 79.50 L488.72 79.00 L488.71 78.50 L488.70 78.00 L488.69 77.50 L488.68 77.00 L488.67 76.50 L488.66 76.00 L488.65 75.50 L488.65 75.00 L488.64 74.50 L488.63 74.00 L488.62 73.50 L488.62 73.00 L488.61 72.50 L488.60 72.00 L488.60 71.50 L488.59 71.00 L488.58 70.50 L488.58 70.00 L488.58 69.50 L488.57 69.00 L488.57 68.50 L488.56 68.00 L488.56 67.50 L488.56 67.00 L488.55 66.50 L488.55 66.00 L488.55 65.50 L488.54 65.00 L488.54 64.50 L488.54 64.00 L488.53 63.50 L488.53 63.00 L488.53 62.50 L488.53 62.00 L488.52 61.50 L488.52 61.00 L488.52 60.50 L488.51 60.00 L488.51 59.50 L488.51 59.00 L488.50 58.50 L488.50 58.00 L488.50 57.50 L488.49 57.00 L488.49 56.50 L488.48 56.00 L488.48 55.50 L488.48 55.00 L488.47 54.50 L488.47 54.00 L488.47 53.50 L488.46 53.00 L488.46 52.50 L488.45 52.00 L488.45 51.50 L488.44 51.00 L488.44 50.50 L488.44 50.00 L488.43 49.50 L488.43 49.00 L488.42 48.50 L488.42 48.00 L488.41 47.50 L488.41 47.00 L488.40 46.50 L488.40 46.00 Z" fill="#3A53A4" stroke="#262626" stroke-width="0.90" stroke-linejoin="round"/>
<line x1="488.40" y1="104.00" x2="488.40" y2="192.60" stroke="#2a2a2a" stroke-width="0.80"/><rect x="486.15" y="141.00" width="4.50" height="25.90" fill="#fff" stroke="#2a2a2a" stroke-width="0.80"/><line x1="486.15" y1="154.30" x2="490.65" y2="154.30" stroke="#1a1a1a" stroke-width="1.0"/>
<line x1="488.40" y1="200.10" x2="488.40" y2="202.00" stroke="#2b2b2b" stroke-width="0.9"/>
<text x="343.60" y="215.80" font-size="10.30" text-anchor="middle" font-weight="normal" >42MGBA</text>
<text x="345.00" y="228.20" font-size="10.30" text-anchor="middle" font-weight="normal" >53-1</text>
<text x="394.20" y="215.80" font-size="10.50" text-anchor="middle" font-weight="normal" >STAG2</text>
<text x="395.00" y="228.20" font-size="10.30" text-anchor="middle" font-weight="normal" >WT</text>
<text x="443.30" y="215.80" font-size="10.30" text-anchor="middle" font-weight="normal" >42MGBA</text>
<text x="488.30" y="215.80" font-size="10.50" text-anchor="middle" font-weight="normal" >STAG2</text>
<text x="488.50" y="228.20" font-size="10.30" text-anchor="middle" font-weight="normal" >MUT</text>
<text x="537.60" y="14.80" font-size="19.00" text-anchor="start" font-weight="bold" >C</text>
<path d="M591.90 25.4 V200.40 H777" fill="none" stroke="#3a3a3a" stroke-width="1.1"/>
<text x="586.50" y="198.70" font-size="10.20" text-anchor="end" font-weight="normal" >0</text>
<text x="587.50" y="158.50" font-size="10.20" text-anchor="end" font-weight="normal" >500</text>
<text x="588.10" y="115.70" font-size="10.20" text-anchor="end" font-weight="normal" >1,000</text>
<text x="588.10" y="76.10" font-size="10.20" text-anchor="end" font-weight="normal" >1,500</text>
<text x="588.20" y="33.90" font-size="10.20" text-anchor="end" font-weight="normal" >2,000</text>
<text transform="translate(551.7 111.9) rotate(-90)" font-size="10.0" text-anchor="middle">Distance (kb)</text>
<line x1="615.30" y1="88.90" x2="615.30" y2="195.70" stroke="#2b2b2b" stroke-width="0.9"/><rect x="605.80" y="132.80" width="19.00" height="30.40" fill="#3A53A4"/><line x1="605.60" y1="148.40" x2="625.00" y2="148.40" stroke="#fff" stroke-width="1.7"/><circle cx="615.30" cy="27.70" r="1.25" fill="#111"/><line x1="615.30" y1="35.30" x2="615.30" y2="38.00" stroke="#111" stroke-width="1.9"/><circle cx="615.30" cy="61.40" r="1.25" fill="#111"/><line x1="615.30" y1="63.40" x2="615.30" y2="78.80" stroke="#111" stroke-width="1.9" stroke-dasharray="4.2 0.7"/><line x1="615.30" y1="82.40" x2="615.30" y2="88.90" stroke="#111" stroke-width="1.9"/>
<line x1="636.10" y1="170.20" x2="636.10" y2="198.30" stroke="#2b2b2b" stroke-width="0.9"/><rect x="625.90" y="182.80" width="20.40" height="9.00" fill="#ED1C24"/><line x1="625.70" y1="188.10" x2="646.50" y2="188.10" stroke="#fff" stroke-width="1.7"/><circle cx="636.10" cy="154.20" r="1.25" fill="#111"/><circle cx="636.10" cy="165.90" r="1.25" fill="#111"/><circle cx="636.10" cy="170.20" r="1.25" fill="#111"/>
<line x1="670.70" y1="64.20" x2="670.70" y2="198.30" stroke="#2b2b2b" stroke-width="0.9"/><rect x="661.00" y="116.90" width="19.40" height="40.90" fill="#3A53A4"/><line x1="660.80" y1="133.20" x2="680.60" y2="133.20" stroke="#fff" stroke-width="1.7"/><line x1="670.70" y1="33.40" x2="670.70" y2="38.20" stroke="#111" stroke-width="1.9"/><line x1="670.70" y1="43.60" x2="670.70" y2="47.30" stroke="#111" stroke-width="1.9"/><circle cx="670.70" cy="50.90" r="1.25" fill="#111"/>
<line x1="691.85" y1="155.50" x2="691.85" y2="194.90" stroke="#2b2b2b" stroke-width="0.9"/><rect x="682.00" y="169.90" width="19.70" height="16.20" fill="#ED1C24"/><line x1="681.80" y1="180.40" x2="701.90" y2="180.40" stroke="#fff" stroke-width="1.7"/><line x1="691.85" y1="89.00" x2="691.85" y2="95.00" stroke="#111" stroke-width="1.9"/><line x1="691.85" y1="117.20" x2="691.85" y2="122.60" stroke="#111" stroke-width="1.9" stroke-dasharray="2.4 0.6"/><line x1="691.85" y1="127.40" x2="691.85" y2="135.40" stroke="#111" stroke-width="1.9" stroke-dasharray="2.4 0.6"/><line x1="691.85" y1="140.00" x2="691.85" y2="144.70" stroke="#111" stroke-width="1.9" stroke-dasharray="2 0.6"/>
<line x1="726.50" y1="105.10" x2="726.50" y2="198.30" stroke="#2b2b2b" stroke-width="0.9"/><rect x="717.20" y="150.80" width="18.60" height="31.40" fill="#3A53A4"/><line x1="717.00" y1="169.00" x2="736.00" y2="169.00" stroke="#fff" stroke-width="1.7"/><circle cx="726.50" cy="27.10" r="1.25" fill="#111"/><circle cx="726.50" cy="37.90" r="1.25" fill="#111"/><circle cx="726.50" cy="45.90" r="1.25" fill="#111"/><line x1="726.50" y1="54.40" x2="726.50" y2="59.30" stroke="#111" stroke-width="1.9" stroke-dasharray="2.2 0.6"/><line x1="726.50" y1="62.60" x2="726.50" y2="65.00" stroke="#111" stroke-width="1.9"/><line x1="726.50" y1="67.30" x2="726.50" y2="78.80" stroke="#111" stroke-width="1.9" stroke-dasharray="3.6 0.7"/><circle cx="726.50" cy="84.30" r="1.25" fill="#111"/><line x1="726.50" y1="88.90" x2="726.50" y2="102.50" stroke="#111" stroke-width="1.9" stroke-dasharray="4 0.7"/>
<line x1="746.65" y1="135.40" x2="746.65" y2="196.70" stroke="#2b2b2b" stroke-width="0.9"/><rect x="737.30" y="165.90" width="18.70" height="21.00" fill="#ED1C24"/><line x1="737.10" y1="179.10" x2="756.20" y2="179.10" stroke="#fff" stroke-width="1.7"/><line x1="746.65" y1="26.30" x2="746.65" y2="35.10" stroke="#111" stroke-width="1.9"/><circle cx="746.65" cy="65.00" r="1.25" fill="#111"/><line x1="746.65" y1="92.70" x2="746.65" y2="134.60" stroke="#111" stroke-width="1.6" stroke-dasharray="2.4 0.9 1.3 0.8"/>
<text x="627.00" y="213.80" font-size="10.50" text-anchor="middle" font-weight="normal" >42MGBA</text>
<text x="681.30" y="213.80" font-size="10.50" text-anchor="middle" font-weight="normal" >H4</text>
<text x="738.40" y="213.80" font-size="10.50" text-anchor="middle" font-weight="normal" >PDX</text>
<rect x="616.2" y="227.5" width="158" height="17.2" fill="#fff" stroke="#c8c8c8" stroke-width="1"/>
<text x="621.30" y="239.30" font-size="8.80" text-anchor="start" font-weight="normal" >Loops</text>
<rect x="652.6" y="232.8" width="6.9" height="6.6" fill="#3A53A4"/>
<text x="661.30" y="239.30" font-size="8.80" text-anchor="start" font-weight="normal" >STAG2 MUT</text>
<rect x="719.1" y="232.8" width="6.9" height="6.6" fill="#ED1C24"/>
<text x="727.20" y="239.30" font-size="8.80" text-anchor="start" font-weight="normal" >STAG2 WT</text>
</svg>
</body></html>
